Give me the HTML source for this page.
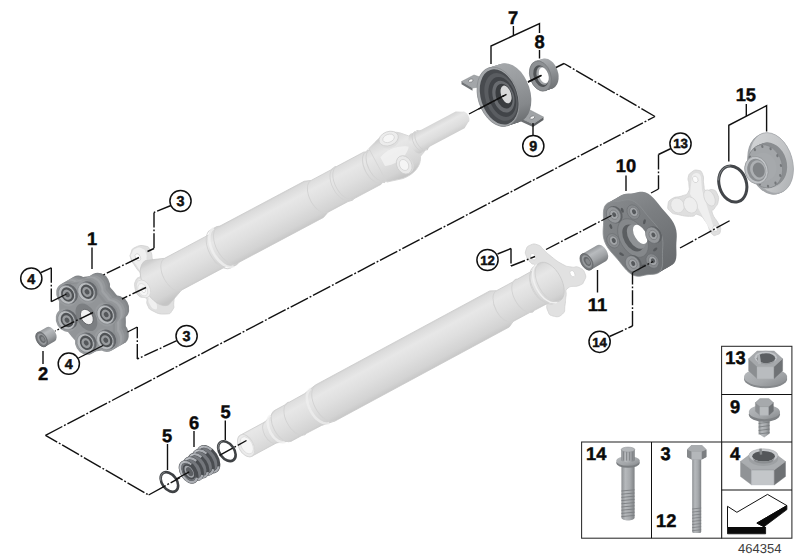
<!DOCTYPE html>
<html><head><meta charset="utf-8"><title>464354</title>
<style>
html,body{margin:0;padding:0;background:#fff;}
body{width:800px;height:560px;overflow:hidden;font-family:"Liberation Sans",sans-serif;}
svg{display:block;font-family:"Liberation Sans",sans-serif;text-rendering:geometricPrecision;}
</style></head><body>
<svg width="800" height="560" viewBox="0 0 800 560">
<defs>
<linearGradient id="gShaft" x1="0" y1="0" x2="0" y2="1">
  <stop offset="0" stop-color="#e2e2e2"/><stop offset="0.18" stop-color="#f6f6f6"/>
  <stop offset="0.45" stop-color="#eeeeee"/><stop offset="0.8" stop-color="#dedede"/><stop offset="1" stop-color="#d2d2d2"/>
</linearGradient>
<linearGradient id="gDark" x1="0" y1="0" x2="0" y2="1">
  <stop offset="0" stop-color="#8a8d90"/><stop offset="0.3" stop-color="#9a9da0"/>
  <stop offset="0.7" stop-color="#7a7d80"/><stop offset="1" stop-color="#606366"/>
</linearGradient>
<linearGradient id="gBolt" x1="0" y1="0" x2="1" y2="0">
  <stop offset="0" stop-color="#8f9295"/><stop offset="0.35" stop-color="#b9bcbf"/>
  <stop offset="0.7" stop-color="#a4a7aa"/><stop offset="1" stop-color="#85888b"/>
</linearGradient>

<linearGradient id="gS" gradientUnits="userSpaceOnUse" x1="0" y1="-22" x2="0" y2="22">
  <stop offset="0" stop-color="#cecece"/><stop offset="0.08" stop-color="#dbdbdb"/>
  <stop offset="0.28" stop-color="#e7e7e7"/><stop offset="0.55" stop-color="#dfdfdf"/>
  <stop offset="0.85" stop-color="#d3d3d3"/><stop offset="1" stop-color="#c5c5c5"/>
</linearGradient>
<linearGradient id="gS2" gradientUnits="userSpaceOnUse" x1="0" y1="-10" x2="0" y2="10">
  <stop offset="0" stop-color="#d4d4d4"/><stop offset="0.3" stop-color="#e7e7e7"/>
  <stop offset="0.7" stop-color="#dddddd"/><stop offset="1" stop-color="#cccccc"/>
</linearGradient>
<radialGradient id="gFl" cx="0.4" cy="0.35" r="0.8">
  <stop offset="0" stop-color="#f6f6f6"/><stop offset="1" stop-color="#dedede"/>
</radialGradient>

<linearGradient id="gRim" gradientUnits="objectBoundingBox" x1="0" y1="0" x2="0" y2="1">
  <stop offset="0" stop-color="#8b8e91"/><stop offset="0.35" stop-color="#7c7f82"/><stop offset="1" stop-color="#626568"/>
</linearGradient>
<linearGradient id="gFace" gradientUnits="objectBoundingBox" x1="0" y1="0" x2="0.3" y2="1">
  <stop offset="0" stop-color="#96999c"/><stop offset="0.5" stop-color="#86898c"/><stop offset="1" stop-color="#74777a"/>
</linearGradient>
<linearGradient id="gRimL" gradientUnits="objectBoundingBox" x1="0" y1="0" x2="0" y2="1">
  <stop offset="0" stop-color="#a9acaf"/><stop offset="0.4" stop-color="#94979a"/><stop offset="1" stop-color="#707376"/>
</linearGradient>

<linearGradient id="gRimA" gradientUnits="objectBoundingBox" x1="0" y1="0" x2="0" y2="1">
  <stop offset="0" stop-color="#a9acaf"/><stop offset="0.35" stop-color="#8f9295"/><stop offset="1" stop-color="#707376"/>
</linearGradient>
<linearGradient id="gFaceA" gradientUnits="objectBoundingBox" x1="0" y1="0" x2="0.3" y2="1">
  <stop offset="0" stop-color="#9c9fa2"/><stop offset="0.5" stop-color="#8c8f92"/><stop offset="1" stop-color="#7d8083"/>
</linearGradient>
<linearGradient id="gRimB" gradientUnits="objectBoundingBox" x1="0" y1="0" x2="0" y2="1">
  <stop offset="0" stop-color="#8a8d90"/><stop offset="0.35" stop-color="#7b7e81"/><stop offset="1" stop-color="#686b6e"/>
</linearGradient>
<linearGradient id="gFaceB" gradientUnits="objectBoundingBox" x1="0" y1="0" x2="0.3" y2="1">
  <stop offset="0" stop-color="#8a8d90"/><stop offset="0.5" stop-color="#7c7f82"/><stop offset="1" stop-color="#6e7174"/>
</linearGradient>

<linearGradient id="gCyl" gradientUnits="objectBoundingBox" x1="0" y1="0" x2="0" y2="1">
  <stop offset="0" stop-color="#94979a"/><stop offset="0.28" stop-color="#b8bbbe"/><stop offset="0.65" stop-color="#a0a3a6"/><stop offset="1" stop-color="#787b7e"/>
</linearGradient>
<linearGradient id="gHouse" gradientUnits="objectBoundingBox" x1="0" y1="0" x2="0" y2="1">
  <stop offset="0" stop-color="#a4a7aa"/><stop offset="0.3" stop-color="#9a9da0"/><stop offset="0.75" stop-color="#85888b"/><stop offset="1" stop-color="#6c6f72"/>
</linearGradient>
<linearGradient id="gLight" gradientUnits="objectBoundingBox" x1="0" y1="0" x2="1" y2="1">
  <stop offset="0" stop-color="#d4d6d8"/><stop offset="0.6" stop-color="#c2c4c6"/><stop offset="1" stop-color="#a8abae"/>
</linearGradient>

<linearGradient id="gB" x1="0" y1="0" x2="1" y2="0">
  <stop offset="0" stop-color="#8c8f92"/><stop offset="0.3" stop-color="#b6b9bc"/>
  <stop offset="0.65" stop-color="#a6a9ac"/><stop offset="1" stop-color="#7e8184"/>
</linearGradient>
<linearGradient id="gFlg" x1="0" y1="0" x2="1" y2="1">
  <stop offset="0" stop-color="#b9bcbf"/><stop offset="0.6" stop-color="#a3a6a9"/><stop offset="1" stop-color="#85888b"/>
</linearGradient>
</defs>
<rect width="800" height="560" fill="#fff"/>
<path d="M131.00,259.00 C129.50,254.65 129.80,256.45 131.00,253.00 C132.20,249.55 130.80,249.60 135.00,247.50 C139.20,245.40 140.35,244.95 145.00,246.00 C149.65,247.05 147.80,246.20 150.50,251.00 C153.20,255.80 150.55,256.90 154.00,262.00 C157.45,267.10 155.40,262.60 162.00,268.00 C168.60,273.40 172.40,270.40 176.00,280.00 C179.60,289.60 175.05,291.00 174.00,300.00 C172.95,309.00 175.20,305.80 172.50,310.00 C169.80,314.20 170.85,313.70 165.00,314.00 C159.15,314.30 158.25,313.70 153.00,311.00 C147.75,308.30 149.60,308.90 147.50,305.00 C145.40,301.10 148.55,300.70 146.00,298.00 C143.45,295.30 142.30,299.00 139.00,296.00 C135.70,293.00 135.90,292.80 135.00,288.00 C134.10,283.20 134.35,283.90 136.00,280.00 C137.65,276.10 140.50,278.75 140.50,275.00 C140.50,271.25 138.85,272.30 136.00,267.50 C133.15,262.70 132.50,263.35 131.00,259.00 Z" fill="#dfdfdf" stroke="#d0d0d0" stroke-width="0.8" />
<path d="M131.50,258.00 C129.85,253.80 130.65,255.85 132.00,253.00 C133.35,250.15 133.00,249.85 136.00,248.50 C139.00,247.15 139.00,247.15 142.00,248.50 C145.00,249.85 144.50,248.95 146.00,253.00 C147.50,257.05 145.80,256.30 147.00,262.00 C148.20,267.70 148.50,265.40 150.00,272.00 C151.50,278.60 151.10,276.80 152.00,284.00 C152.90,291.20 151.50,289.40 153.00,296.00 C154.50,302.60 156.70,302.10 157.00,306.00 C157.30,309.90 156.40,309.90 154.00,309.00 C151.60,308.10 150.95,306.60 149.00,303.00 C147.05,299.40 150.20,299.40 147.50,297.00 C144.80,294.60 143.30,297.70 140.00,295.00 C136.70,292.30 137.25,292.20 136.50,288.00 C135.75,283.80 135.85,284.60 137.50,281.00 C139.15,277.40 142.00,280.20 142.00,276.00 C142.00,271.80 140.65,272.40 137.50,267.00 C134.35,261.60 133.15,262.20 131.50,258.00 Z" fill="#f0f0f0" stroke="none" stroke-width="0" />
<path d="M526.00,250.00 C527.20,246.55 526.90,246.50 530.50,245.00 C534.10,243.50 534.10,243.65 538.00,245.00 C541.90,246.35 539.90,246.35 543.50,249.50 C547.10,252.65 544.45,251.15 550.00,255.50 C555.55,259.85 555.70,260.55 562.00,264.00 C568.30,267.45 565.90,265.95 571.00,267.00 C576.10,268.05 574.80,265.55 579.00,267.50 C583.20,269.45 583.50,269.45 585.00,273.50 C586.50,277.55 585.80,277.40 584.00,281.00 C582.20,284.60 583.80,283.40 579.00,285.50 C574.20,287.60 571.90,284.85 568.00,288.00 C564.10,291.15 566.90,290.90 566.00,296.00 C565.10,301.10 566.05,299.60 565.00,305.00 C563.95,310.40 566.10,310.70 562.50,314.00 C558.90,317.30 557.50,317.20 553.00,316.00 C548.50,314.80 549.60,314.80 547.50,310.00 C545.40,305.20 548.25,307.50 546.00,300.00 C543.75,292.50 543.00,294.60 540.00,285.00 C537.00,275.40 538.85,274.75 536.00,268.00 C533.15,261.25 533.35,265.95 530.50,262.50 C527.65,259.05 527.85,260.25 526.50,256.50 C525.15,252.75 524.80,253.45 526.00,250.00 Z" fill="#e1e1e1" stroke="#d0d0d0" stroke-width="0.8" />
<g transform="translate(151.8,285.5) rotate(-28)"><path d="M6,-25 L14,-22 L24,-18 L75,-18 L78,-21.5 L85,-21.5 L88,-20.5 L183.5,-20.5 L190,-18 L215,-18 L217,-19 L219,-18.3 L250,-18.3 L252,-17 L254,-18.5 L256,-17 L258,-18.5 L262,-18.5 A10.175,18.5 0 0 1 262,18.5 L258,18.5 L256,17 L254,18.5 L252,17 L250,18.3 L219,18.3 L217,19 L215,18 L190,18 L183.5,20.5 L88,20.5 L85,21.5 L78,21.5 L75,18 L24,18 L14,22 L6,25 A13.750000000000002,25 0 0 1 6,-25 Z" fill="url(#gS)" stroke="#c8c8c8" stroke-width="0.7"/><path d="M24,-18 A9.9,18 0 0 0 24,18" fill="none" stroke="#d2d2d2" stroke-width="0.9" opacity="1"/><path d="M78,-21.5 A11.825000000000001,21.5 0 0 0 78,21.5" fill="none" stroke="#d2d2d2" stroke-width="0.9" opacity="1"/><path d="M86,-21 A11.55,21 0 0 0 86,21" fill="none" stroke="#d2d2d2" stroke-width="0.9" opacity="1"/><path d="M190,-18 A9.9,18 0 0 0 190,18" fill="none" stroke="#d2d2d2" stroke-width="0.9" opacity="1"/><path d="M216,-18.6 A10.230000000000002,18.6 0 0 0 216,18.6" fill="none" stroke="#d2d2d2" stroke-width="0.9" opacity="1"/><path d="M219,-18.3 A10.065000000000001,18.3 0 0 0 219,18.3" fill="none" stroke="#d2d2d2" stroke-width="0.9" opacity="1"/><path d="M252,-17.5 A9.625,17.5 0 0 0 252,17.5" fill="none" stroke="#d2d2d2" stroke-width="0.9" opacity="1"/><path d="M256,-17.5 A9.625,17.5 0 0 0 256,17.5" fill="none" stroke="#d2d2d2" stroke-width="0.9" opacity="1"/><path d="M81.5,-21.5 A11.825000000000001,21.5 0 0 0 81.5,21.5" fill="none" stroke="#f2f2f2" stroke-width="2.6" opacity="0.75"/><ellipse cx="-9" cy="-1" rx="6.5" ry="9.5" fill="#efefef" stroke="#d6d6d6" stroke-width="0.8"/><ellipse cx="-10" cy="-0.5" rx="4.4" ry="6.6" fill="#f6f6f6" stroke="#d8d8d8" stroke-width="0.7"/><ellipse cx="-9.5" cy="0" rx="1.8" ry="2.8" fill="#ffffff" stroke="#cfcfcf" stroke-width="0.6"/><ellipse cx="1" cy="-31.5" rx="2.4" ry="3.8" fill="#ffffff" stroke="#d0d0d0" stroke-width="0.7"/><path d="M256,-19 L264,-21.5 C272,-25 284,-25 291,-18 L297,-11.5 L303,-11 L303,10 L298,12 C294,21 284,25 272,23.5 L256,19Z" fill="url(#gS)" stroke="#d4d4d4" stroke-width="0.8"/><path d="M262,-6 C272,-10 284,-8 292,-2 C286,6 272,8 262,4Z" fill="#f3f3f3" opacity="0.8"/><g transform="rotate(8 278 -18)"><ellipse cx="278" cy="-16" rx="10" ry="7" fill="#dfdfdf"/><ellipse cx="278" cy="-18.5" rx="10" ry="7" fill="#ececec" stroke="#d0d0d0" stroke-width="0.8"/><ellipse cx="278" cy="-18.8" rx="6" ry="4" fill="#f6f6f6" stroke="#d2d2d2" stroke-width="0.7"/></g><ellipse cx="281" cy="12.5" rx="7.4" ry="9.6" fill="#dcdcdc"/><ellipse cx="279.5" cy="12" rx="7.4" ry="9.6" fill="#e9e9e9" stroke="#cecece" stroke-width="0.8"/><ellipse cx="279.3" cy="12" rx="4.4" ry="5.8" fill="#f5f5f5" stroke="#d2d2d2" stroke-width="0.7"/><g transform="translate(0,-1.5)"><path d="M300,-11 L303,-10 L304,-11.5 L306,-10 L307,-11.5 L309,-10 L311,-9.4 L350,-9.4 L356,-6 A3.3000000000000003,6 0 0 1 356,6 L350,9.4 L311,9.4 L309,10 L307,11.5 L306,10 L304,11.5 L303,10 L300,11 A6.050000000000001,11 0 0 1 300,-11 Z" fill="url(#gS2)"/><path d="M304,-11 A6.050000000000001,11 0 0 0 304,11" fill="none" stroke="#d0d0d0" stroke-width="0.8" opacity="1"/><path d="M307,-11 A6.050000000000001,11 0 0 0 307,11" fill="none" stroke="#d0d0d0" stroke-width="0.8" opacity="1"/></g></g>
<g transform="translate(239.05,449.5) rotate(-28.35)"><path d="M8,-12 L36,-12 L42,-14 L50,-17.5 L64,-17.5 L65,-18.3 L67,-17.8 L84,-18 L98,-20.5 L296,-20.5 L302,-17.5 L322,-17.5 L324,-18.5 L326,-17.8 L343,-18 L346,-20.8 L353,-21.4 A11.77,21.4 0 0 1 353,21.4 L346,20.8 L343,18 L326,17.8 L324,18.5 L322,17.5 L302,17.5 L296,20.5 L98,20.5 L84,18 L67,17.8 L65,18.3 L64,17.5 L50,17.5 L42,14 L36,12 L8,12 A6.6000000000000005,12 0 0 1 8,-12 Z" fill="url(#gS)" stroke="#c8c8c8" stroke-width="0.7"/><path d="M36,-12 A6.6000000000000005,12 0 0 0 36,12" fill="none" stroke="#d2d2d2" stroke-width="0.9" opacity="1"/><path d="M50,-17.5 A9.625,17.5 0 0 0 50,17.5" fill="none" stroke="#d2d2d2" stroke-width="0.9" opacity="1"/><path d="M65,-18.2 A10.01,18.2 0 0 0 65,18.2" fill="none" stroke="#d2d2d2" stroke-width="0.9" opacity="1"/><path d="M98,-20 A11.0,20 0 0 0 98,20" fill="none" stroke="#d2d2d2" stroke-width="0.9" opacity="1"/><path d="M302,-17.5 A9.625,17.5 0 0 0 302,17.5" fill="none" stroke="#d2d2d2" stroke-width="0.9" opacity="1"/><path d="M324,-18.3 A10.065000000000001,18.3 0 0 0 324,18.3" fill="none" stroke="#d2d2d2" stroke-width="0.9" opacity="1"/><path d="M344,-18 A9.9,18 0 0 0 344,18" fill="none" stroke="#d2d2d2" stroke-width="0.9" opacity="1"/><path d="M44,-15 A8.25,15 0 0 0 44,15" fill="none" stroke="#f2f2f2" stroke-width="2.6" opacity="0.75"/><path d="M92,-19.4 A10.67,19.4 0 0 0 92,19.4" fill="none" stroke="#f0f0f0" stroke-width="2.6" opacity="0.7"/><ellipse cx="8" cy="0" rx="7.4" ry="12" fill="#ebebeb" stroke="#d6d6d6" stroke-width="0.9"/><ellipse cx="8.8" cy="0" rx="5.6" ry="9.3" fill="#f6f6f6" stroke="#dcdcdc" stroke-width="0.8"/><ellipse cx="350.5" cy="-30" rx="2.2" ry="3.6" fill="#ffffff" stroke="#d2d2d2" stroke-width="0.7"/><ellipse cx="376.9" cy="3.6" rx="2.2" ry="3.4" fill="#ffffff" stroke="#d2d2d2" stroke-width="0.7"/><path d="M346.5,-20.8 A11.440000000000001,20.8 0 0 0 346.5,20.8" fill="none" stroke="#d0d0d0" stroke-width="0.9" opacity="1"/><path d="M350,-21.2 A11.66,21.2 0 0 0 350,21.2" fill="none" stroke="#f0f0f0" stroke-width="1.6" opacity="1"/><path d="M353,-21.4 A11.77,21.4 0 0 0 353,21.4" fill="none" stroke="#d2d2d2" stroke-width="0.9" opacity="1"/></g>
<g id="dark">
<g transform="translate(633,238) rotate(-30)"><path d="M16.00,-41.80 L18.21,-40.73 L20.34,-39.66 L22.44,-38.75 L24.58,-38.03 L26.80,-37.37 L29.08,-36.54 L31.33,-35.31 L33.43,-33.50 L35.24,-31.03 L36.67,-27.98 L37.72,-24.53 L38.45,-20.90 L38.98,-17.28 L39.46,-13.77 L40.03,-10.38 L40.71,-7.03 L41.47,-3.59 L42.16,-0.00 L42.63,3.76 L42.70,7.59 L42.28,11.36 L41.36,14.89 L40.03,18.07 L38.45,20.90 L36.77,23.45 L35.13,25.89 L33.59,28.37 L32.13,31.00 L30.66,33.77 L29.08,36.54 L27.30,39.07 L25.27,41.09 L23.04,42.38 L20.69,42.87 L18.31,42.61 L16.00,41.80 L13.79,40.73 L11.66,39.66 L9.56,38.75 L7.42,38.03 L5.20,37.37 L2.92,36.54 L0.67,35.31 L-1.43,33.50 L-3.24,31.03 L-4.67,27.98 L-5.72,24.53 L-6.45,20.90 L-6.98,17.28 L-7.46,13.77 L-8.03,10.38 L-8.71,7.03 L-9.47,3.59 L-10.16,0.00 L-10.63,-3.76 L-10.70,-7.59 L-10.28,-11.36 L-9.36,-14.89 L-8.03,-18.07 L-6.45,-20.90 L-4.77,-23.45 L-3.13,-25.89 L-1.59,-28.37 L-0.13,-31.00 L1.34,-33.77 L2.92,-36.54 L4.70,-39.07 L6.73,-41.09 L8.96,-42.38 L11.31,-42.87 L13.69,-42.61Z" fill="url(#gRimB)"/><path d="M14.40,-41.80 L16.61,-40.73 L18.74,-39.66 L20.84,-38.75 L22.98,-38.03 L25.20,-37.37 L27.48,-36.54 L29.73,-35.31 L31.83,-33.50 L33.64,-31.03 L35.07,-27.98 L36.12,-24.53 L36.85,-20.90 L37.38,-17.28 L37.86,-13.77 L38.43,-10.38 L39.11,-7.03 L39.87,-3.59 L40.56,-0.00 L41.03,3.76 L41.10,7.59 L40.68,11.36 L39.76,14.89 L38.43,18.07 L36.85,20.90 L35.17,23.45 L33.53,25.89 L31.99,28.37 L30.53,31.00 L29.06,33.77 L27.48,36.54 L25.70,39.07 L23.67,41.09 L21.44,42.38 L19.09,42.87 L16.71,42.61 L14.40,41.80 L12.19,40.73 L10.06,39.66 L7.96,38.75 L5.82,38.03 L3.60,37.37 L1.32,36.54 L-0.93,35.31 L-3.03,33.50 L-4.84,31.03 L-6.27,27.98 L-7.32,24.53 L-8.05,20.90 L-8.58,17.28 L-9.06,13.77 L-9.63,10.38 L-10.31,7.03 L-11.07,3.59 L-11.76,0.00 L-12.23,-3.76 L-12.30,-7.59 L-11.88,-11.36 L-10.96,-14.89 L-9.63,-18.07 L-8.05,-20.90 L-6.37,-23.45 L-4.73,-25.89 L-3.19,-28.37 L-1.73,-31.00 L-0.26,-33.77 L1.32,-36.54 L3.10,-39.07 L5.13,-41.09 L7.36,-42.38 L9.71,-42.87 L12.09,-42.61Z" fill="url(#gRimB)"/><path d="M12.80,-41.80 L15.01,-40.73 L17.14,-39.66 L19.24,-38.75 L21.38,-38.03 L23.60,-37.37 L25.88,-36.54 L28.13,-35.31 L30.23,-33.50 L32.04,-31.03 L33.47,-27.98 L34.52,-24.53 L35.25,-20.90 L35.78,-17.28 L36.26,-13.77 L36.83,-10.38 L37.51,-7.03 L38.27,-3.59 L38.96,-0.00 L39.43,3.76 L39.50,7.59 L39.08,11.36 L38.16,14.89 L36.83,18.07 L35.25,20.90 L33.57,23.45 L31.93,25.89 L30.39,28.37 L28.93,31.00 L27.46,33.77 L25.88,36.54 L24.10,39.07 L22.07,41.09 L19.84,42.38 L17.49,42.87 L15.11,42.61 L12.80,41.80 L10.59,40.73 L8.46,39.66 L6.36,38.75 L4.22,38.03 L2.00,37.37 L-0.28,36.54 L-2.53,35.31 L-4.63,33.50 L-6.44,31.03 L-7.87,27.98 L-8.92,24.53 L-9.65,20.90 L-10.18,17.28 L-10.66,13.77 L-11.23,10.38 L-11.91,7.03 L-12.67,3.59 L-13.36,0.00 L-13.83,-3.76 L-13.90,-7.59 L-13.48,-11.36 L-12.56,-14.89 L-11.23,-18.07 L-9.65,-20.90 L-7.97,-23.45 L-6.33,-25.89 L-4.79,-28.37 L-3.33,-31.00 L-1.86,-33.77 L-0.28,-36.54 L1.50,-39.07 L3.53,-41.09 L5.76,-42.38 L8.11,-42.87 L10.49,-42.61Z" fill="url(#gRimB)"/><path d="M11.20,-41.80 L13.41,-40.73 L15.54,-39.66 L17.64,-38.75 L19.78,-38.03 L22.00,-37.37 L24.28,-36.54 L26.53,-35.31 L28.63,-33.50 L30.44,-31.03 L31.87,-27.98 L32.92,-24.53 L33.65,-20.90 L34.18,-17.28 L34.66,-13.77 L35.23,-10.38 L35.91,-7.03 L36.67,-3.59 L37.36,-0.00 L37.83,3.76 L37.90,7.59 L37.48,11.36 L36.56,14.89 L35.23,18.07 L33.65,20.90 L31.97,23.45 L30.33,25.89 L28.79,28.37 L27.33,31.00 L25.86,33.77 L24.28,36.54 L22.50,39.07 L20.47,41.09 L18.24,42.38 L15.89,42.87 L13.51,42.61 L11.20,41.80 L8.99,40.73 L6.86,39.66 L4.76,38.75 L2.62,38.03 L0.40,37.37 L-1.88,36.54 L-4.13,35.31 L-6.23,33.50 L-8.04,31.03 L-9.47,27.98 L-10.52,24.53 L-11.25,20.90 L-11.78,17.28 L-12.26,13.77 L-12.83,10.38 L-13.51,7.03 L-14.27,3.59 L-14.96,0.00 L-15.43,-3.76 L-15.50,-7.59 L-15.08,-11.36 L-14.16,-14.89 L-12.83,-18.07 L-11.25,-20.90 L-9.57,-23.45 L-7.93,-25.89 L-6.39,-28.37 L-4.93,-31.00 L-3.46,-33.77 L-1.88,-36.54 L-0.10,-39.07 L1.93,-41.09 L4.16,-42.38 L6.51,-42.87 L8.89,-42.61Z" fill="url(#gRimB)"/><path d="M9.60,-41.80 L11.81,-40.73 L13.94,-39.66 L16.04,-38.75 L18.18,-38.03 L20.40,-37.37 L22.68,-36.54 L24.93,-35.31 L27.03,-33.50 L28.84,-31.03 L30.27,-27.98 L31.32,-24.53 L32.05,-20.90 L32.58,-17.28 L33.06,-13.77 L33.63,-10.38 L34.31,-7.03 L35.07,-3.59 L35.76,-0.00 L36.23,3.76 L36.30,7.59 L35.88,11.36 L34.96,14.89 L33.63,18.07 L32.05,20.90 L30.37,23.45 L28.73,25.89 L27.19,28.37 L25.73,31.00 L24.26,33.77 L22.68,36.54 L20.90,39.07 L18.87,41.09 L16.64,42.38 L14.29,42.87 L11.91,42.61 L9.60,41.80 L7.39,40.73 L5.26,39.66 L3.16,38.75 L1.02,38.03 L-1.20,37.37 L-3.48,36.54 L-5.73,35.31 L-7.83,33.50 L-9.64,31.03 L-11.07,27.98 L-12.12,24.53 L-12.85,20.90 L-13.38,17.28 L-13.86,13.77 L-14.43,10.38 L-15.11,7.03 L-15.87,3.59 L-16.56,0.00 L-17.03,-3.76 L-17.10,-7.59 L-16.68,-11.36 L-15.76,-14.89 L-14.43,-18.07 L-12.85,-20.90 L-11.17,-23.45 L-9.53,-25.89 L-7.99,-28.37 L-6.53,-31.00 L-5.06,-33.77 L-3.48,-36.54 L-1.70,-39.07 L0.33,-41.09 L2.56,-42.38 L4.91,-42.87 L7.29,-42.61Z" fill="url(#gRimB)"/><path d="M8.00,-41.80 L10.21,-40.73 L12.34,-39.66 L14.44,-38.75 L16.58,-38.03 L18.80,-37.37 L21.08,-36.54 L23.33,-35.31 L25.43,-33.50 L27.24,-31.03 L28.67,-27.98 L29.72,-24.53 L30.45,-20.90 L30.98,-17.28 L31.46,-13.77 L32.03,-10.38 L32.71,-7.03 L33.47,-3.59 L34.16,-0.00 L34.63,3.76 L34.70,7.59 L34.28,11.36 L33.36,14.89 L32.03,18.07 L30.45,20.90 L28.77,23.45 L27.13,25.89 L25.59,28.37 L24.13,31.00 L22.66,33.77 L21.08,36.54 L19.30,39.07 L17.27,41.09 L15.04,42.38 L12.69,42.87 L10.31,42.61 L8.00,41.80 L5.79,40.73 L3.66,39.66 L1.56,38.75 L-0.58,38.03 L-2.80,37.37 L-5.08,36.54 L-7.33,35.31 L-9.43,33.50 L-11.24,31.03 L-12.67,27.98 L-13.72,24.53 L-14.45,20.90 L-14.98,17.28 L-15.46,13.77 L-16.03,10.38 L-16.71,7.03 L-17.47,3.59 L-18.16,0.00 L-18.63,-3.76 L-18.70,-7.59 L-18.28,-11.36 L-17.36,-14.89 L-16.03,-18.07 L-14.45,-20.90 L-12.77,-23.45 L-11.13,-25.89 L-9.59,-28.37 L-8.13,-31.00 L-6.66,-33.77 L-5.08,-36.54 L-3.30,-39.07 L-1.27,-41.09 L0.96,-42.38 L3.31,-42.87 L5.69,-42.61Z" fill="url(#gRimB)"/><path d="M6.40,-41.80 L8.61,-40.73 L10.74,-39.66 L12.84,-38.75 L14.98,-38.03 L17.20,-37.37 L19.48,-36.54 L21.73,-35.31 L23.83,-33.50 L25.64,-31.03 L27.07,-27.98 L28.12,-24.53 L28.85,-20.90 L29.38,-17.28 L29.86,-13.77 L30.43,-10.38 L31.11,-7.03 L31.87,-3.59 L32.56,-0.00 L33.03,3.76 L33.10,7.59 L32.68,11.36 L31.76,14.89 L30.43,18.07 L28.85,20.90 L27.17,23.45 L25.53,25.89 L23.99,28.37 L22.53,31.00 L21.06,33.77 L19.48,36.54 L17.70,39.07 L15.67,41.09 L13.44,42.38 L11.09,42.87 L8.71,42.61 L6.40,41.80 L4.19,40.73 L2.06,39.66 L-0.04,38.75 L-2.18,38.03 L-4.40,37.37 L-6.68,36.54 L-8.93,35.31 L-11.03,33.50 L-12.84,31.03 L-14.27,27.98 L-15.32,24.53 L-16.05,20.90 L-16.58,17.28 L-17.06,13.77 L-17.63,10.38 L-18.31,7.03 L-19.07,3.59 L-19.76,0.00 L-20.23,-3.76 L-20.30,-7.59 L-19.88,-11.36 L-18.96,-14.89 L-17.63,-18.07 L-16.05,-20.90 L-14.37,-23.45 L-12.73,-25.89 L-11.19,-28.37 L-9.73,-31.00 L-8.26,-33.77 L-6.68,-36.54 L-4.90,-39.07 L-2.87,-41.09 L-0.64,-42.38 L1.71,-42.87 L4.09,-42.61Z" fill="url(#gRimB)"/><path d="M4.80,-41.80 L7.01,-40.73 L9.14,-39.66 L11.24,-38.75 L13.38,-38.03 L15.60,-37.37 L17.88,-36.54 L20.13,-35.31 L22.23,-33.50 L24.04,-31.03 L25.47,-27.98 L26.52,-24.53 L27.25,-20.90 L27.78,-17.28 L28.26,-13.77 L28.83,-10.38 L29.51,-7.03 L30.27,-3.59 L30.96,-0.00 L31.43,3.76 L31.50,7.59 L31.08,11.36 L30.16,14.89 L28.83,18.07 L27.25,20.90 L25.57,23.45 L23.93,25.89 L22.39,28.37 L20.93,31.00 L19.46,33.77 L17.88,36.54 L16.10,39.07 L14.07,41.09 L11.84,42.38 L9.49,42.87 L7.11,42.61 L4.80,41.80 L2.59,40.73 L0.46,39.66 L-1.64,38.75 L-3.78,38.03 L-6.00,37.37 L-8.28,36.54 L-10.53,35.31 L-12.63,33.50 L-14.44,31.03 L-15.87,27.98 L-16.92,24.53 L-17.65,20.90 L-18.18,17.28 L-18.66,13.77 L-19.23,10.38 L-19.91,7.03 L-20.67,3.59 L-21.36,0.00 L-21.83,-3.76 L-21.90,-7.59 L-21.48,-11.36 L-20.56,-14.89 L-19.23,-18.07 L-17.65,-20.90 L-15.97,-23.45 L-14.33,-25.89 L-12.79,-28.37 L-11.33,-31.00 L-9.86,-33.77 L-8.28,-36.54 L-6.50,-39.07 L-4.47,-41.09 L-2.24,-42.38 L0.11,-42.87 L2.49,-42.61Z" fill="url(#gRimB)"/><path d="M3.20,-41.80 L5.41,-40.73 L7.54,-39.66 L9.64,-38.75 L11.78,-38.03 L14.00,-37.37 L16.28,-36.54 L18.53,-35.31 L20.63,-33.50 L22.44,-31.03 L23.87,-27.98 L24.92,-24.53 L25.65,-20.90 L26.18,-17.28 L26.66,-13.77 L27.23,-10.38 L27.91,-7.03 L28.67,-3.59 L29.36,-0.00 L29.83,3.76 L29.90,7.59 L29.48,11.36 L28.56,14.89 L27.23,18.07 L25.65,20.90 L23.97,23.45 L22.33,25.89 L20.79,28.37 L19.33,31.00 L17.86,33.77 L16.28,36.54 L14.50,39.07 L12.47,41.09 L10.24,42.38 L7.89,42.87 L5.51,42.61 L3.20,41.80 L0.99,40.73 L-1.14,39.66 L-3.24,38.75 L-5.38,38.03 L-7.60,37.37 L-9.88,36.54 L-12.13,35.31 L-14.23,33.50 L-16.04,31.03 L-17.47,27.98 L-18.52,24.53 L-19.25,20.90 L-19.78,17.28 L-20.26,13.77 L-20.83,10.38 L-21.51,7.03 L-22.27,3.59 L-22.96,0.00 L-23.43,-3.76 L-23.50,-7.59 L-23.08,-11.36 L-22.16,-14.89 L-20.83,-18.07 L-19.25,-20.90 L-17.57,-23.45 L-15.93,-25.89 L-14.39,-28.37 L-12.93,-31.00 L-11.46,-33.77 L-9.88,-36.54 L-8.10,-39.07 L-6.07,-41.09 L-3.84,-42.38 L-1.49,-42.87 L0.89,-42.61Z" fill="url(#gRimB)"/><path d="M1.60,-41.80 L3.81,-40.73 L5.94,-39.66 L8.04,-38.75 L10.18,-38.03 L12.40,-37.37 L14.68,-36.54 L16.93,-35.31 L19.03,-33.50 L20.84,-31.03 L22.27,-27.98 L23.32,-24.53 L24.05,-20.90 L24.58,-17.28 L25.06,-13.77 L25.63,-10.38 L26.31,-7.03 L27.07,-3.59 L27.76,-0.00 L28.23,3.76 L28.30,7.59 L27.88,11.36 L26.96,14.89 L25.63,18.07 L24.05,20.90 L22.37,23.45 L20.73,25.89 L19.19,28.37 L17.73,31.00 L16.26,33.77 L14.68,36.54 L12.90,39.07 L10.87,41.09 L8.64,42.38 L6.29,42.87 L3.91,42.61 L1.60,41.80 L-0.61,40.73 L-2.74,39.66 L-4.84,38.75 L-6.98,38.03 L-9.20,37.37 L-11.48,36.54 L-13.73,35.31 L-15.83,33.50 L-17.64,31.03 L-19.07,27.98 L-20.12,24.53 L-20.85,20.90 L-21.38,17.28 L-21.86,13.77 L-22.43,10.38 L-23.11,7.03 L-23.87,3.59 L-24.56,0.00 L-25.03,-3.76 L-25.10,-7.59 L-24.68,-11.36 L-23.76,-14.89 L-22.43,-18.07 L-20.85,-20.90 L-19.17,-23.45 L-17.53,-25.89 L-15.99,-28.37 L-14.53,-31.00 L-13.06,-33.77 L-11.48,-36.54 L-9.70,-39.07 L-7.67,-41.09 L-5.44,-42.38 L-3.09,-42.87 L-0.71,-42.61Z" fill="url(#gRimB)"/><path d="M0.00,-41.80 L2.21,-40.73 L4.34,-39.66 L6.44,-38.75 L8.58,-38.03 L10.80,-37.37 L13.08,-36.54 L15.33,-35.31 L17.43,-33.50 L19.24,-31.03 L20.67,-27.98 L21.72,-24.53 L22.45,-20.90 L22.98,-17.28 L23.46,-13.77 L24.03,-10.38 L24.71,-7.03 L25.47,-3.59 L26.16,-0.00 L26.63,3.76 L26.70,7.59 L26.28,11.36 L25.36,14.89 L24.03,18.07 L22.45,20.90 L20.77,23.45 L19.13,25.89 L17.59,28.37 L16.13,31.00 L14.66,33.77 L13.08,36.54 L11.30,39.07 L9.27,41.09 L7.04,42.38 L4.69,42.87 L2.31,42.61 L0.00,41.80 L-2.21,40.73 L-4.34,39.66 L-6.44,38.75 L-8.58,38.03 L-10.80,37.37 L-13.08,36.54 L-15.33,35.31 L-17.43,33.50 L-19.24,31.03 L-20.67,27.98 L-21.72,24.53 L-22.45,20.90 L-22.98,17.28 L-23.46,13.77 L-24.03,10.38 L-24.71,7.03 L-25.47,3.59 L-26.16,0.00 L-26.63,-3.76 L-26.70,-7.59 L-26.28,-11.36 L-25.36,-14.89 L-24.03,-18.07 L-22.45,-20.90 L-20.77,-23.45 L-19.13,-25.89 L-17.59,-28.37 L-16.13,-31.00 L-14.66,-33.77 L-13.08,-36.54 L-11.30,-39.07 L-9.27,-41.09 L-7.04,-42.38 L-4.69,-42.87 L-2.31,-42.61Z" fill="url(#gFaceB)" stroke="#8d9093" stroke-width="0.7"/><ellipse cx="0" cy="0" rx="13.02" ry="21.00" fill="#85888b" stroke="#6a6d70" stroke-width="0.6"/><ellipse cx="4.54" cy="-29.34" rx="1.3" ry="2.6" fill="#56595c" transform="rotate(8.4 4.54 -29.34)"/><ellipse cx="18.02" cy="-8.34" rx="1.3" ry="2.6" fill="#56595c" transform="rotate(44.4 18.02 -8.34)"/><ellipse cx="13.49" cy="21.01" rx="1.3" ry="2.6" fill="#56595c" transform="rotate(80.4 13.49 21.01)"/><ellipse cx="-4.54" cy="29.34" rx="1.3" ry="2.6" fill="#56595c" transform="rotate(116.4 -4.54 29.34)"/><ellipse cx="-18.02" cy="8.34" rx="1.3" ry="2.6" fill="#56595c" transform="rotate(152.4 -18.02 8.34)"/><ellipse cx="-13.49" cy="-21.01" rx="1.3" ry="2.6" fill="#56595c" transform="rotate(188.4 -13.49 -21.01)"/><ellipse cx="0" cy="0" rx="9.11" ry="14.70" fill="#5b5e61"/><ellipse cx="3.52" cy="0.5" rx="7.84" ry="13.23" fill="#8f9295"/><ellipse cx="8.00" cy="0.5" rx="5.65" ry="10.58" fill="#ffffff"/><ellipse cx="-3.88" cy="-29.27" rx="7.2" ry="9" fill="#5f6265"/><ellipse cx="-5.28" cy="-29.67" rx="6.8" ry="8.6" fill="#94979a" stroke="#66696c" stroke-width="0.5"/><ellipse cx="-4.88" cy="-29.67" rx="3.9" ry="4.9" fill="#a2a5a8" stroke="#6a6d70" stroke-width="0.5"/><ellipse cx="-4.58" cy="-29.67" rx="1.9" ry="2.5" fill="#56595c"/><ellipse cx="13.30" cy="-22.21" rx="6.0" ry="7.6" fill="#878a8d" stroke="#66696c" stroke-width="0.5"/><ellipse cx="13.70" cy="-22.21" rx="3.9" ry="4.9" fill="#a2a5a8" stroke="#6a6d70" stroke-width="0.5"/><ellipse cx="14.00" cy="-22.21" rx="1.9" ry="2.5" fill="#56595c"/><ellipse cx="19.97" cy="7.87" rx="7.2" ry="9" fill="#5f6265"/><ellipse cx="18.57" cy="7.47" rx="6.8" ry="8.6" fill="#94979a" stroke="#66696c" stroke-width="0.5"/><ellipse cx="18.97" cy="7.47" rx="3.9" ry="4.9" fill="#a2a5a8" stroke="#6a6d70" stroke-width="0.5"/><ellipse cx="19.27" cy="7.47" rx="1.9" ry="2.5" fill="#56595c"/><ellipse cx="5.28" cy="29.67" rx="6.0" ry="7.6" fill="#878a8d" stroke="#66696c" stroke-width="0.5"/><ellipse cx="5.68" cy="29.67" rx="3.9" ry="4.9" fill="#a2a5a8" stroke="#6a6d70" stroke-width="0.5"/><ellipse cx="5.98" cy="29.67" rx="1.9" ry="2.5" fill="#56595c"/><ellipse cx="-11.90" cy="22.61" rx="7.2" ry="9" fill="#5f6265"/><ellipse cx="-13.30" cy="22.21" rx="6.8" ry="8.6" fill="#94979a" stroke="#66696c" stroke-width="0.5"/><ellipse cx="-12.90" cy="22.21" rx="3.9" ry="4.9" fill="#a2a5a8" stroke="#6a6d70" stroke-width="0.5"/><ellipse cx="-12.60" cy="22.21" rx="1.9" ry="2.5" fill="#56595c"/><ellipse cx="-18.57" cy="-7.47" rx="6.0" ry="7.6" fill="#878a8d" stroke="#66696c" stroke-width="0.5"/><ellipse cx="-18.17" cy="-7.47" rx="3.9" ry="4.9" fill="#a2a5a8" stroke="#6a6d70" stroke-width="0.5"/><ellipse cx="-17.87" cy="-7.47" rx="1.9" ry="2.5" fill="#56595c"/></g>
<g transform="translate(86,317.5) rotate(-30)"><path d="M15.00,-37.27 L16.99,-36.77 L18.95,-36.11 L20.87,-35.36 L22.79,-34.53 L24.71,-33.58 L26.60,-32.41 L28.44,-30.95 L30.16,-29.13 L31.70,-26.94 L33.03,-24.40 L34.12,-21.60 L35.01,-18.64 L35.74,-15.60 L36.36,-12.54 L36.92,-9.47 L37.44,-6.38 L37.88,-3.23 L38.21,-0.00 L38.34,3.29 L38.22,6.60 L37.81,9.86 L37.11,12.98 L36.16,15.91 L35.01,18.64 L33.75,21.17 L32.42,23.57 L31.05,25.89 L29.64,28.15 L28.17,30.35 L26.60,32.41 L24.90,34.25 L23.06,35.74 L21.11,36.79 L19.09,37.38 L17.03,37.51 L15.00,37.27 L13.01,36.77 L11.05,36.11 L9.13,35.36 L7.21,34.53 L5.29,33.58 L3.40,32.41 L1.56,30.95 L-0.16,29.13 L-1.70,26.94 L-3.03,24.40 L-4.12,21.60 L-5.01,18.64 L-5.74,15.60 L-6.36,12.54 L-6.92,9.47 L-7.44,6.38 L-7.88,3.23 L-8.21,0.00 L-8.34,-3.29 L-8.22,-6.60 L-7.81,-9.86 L-7.11,-12.98 L-6.16,-15.91 L-5.01,-18.64 L-3.75,-21.17 L-2.42,-23.57 L-1.05,-25.89 L0.36,-28.15 L1.83,-30.35 L3.40,-32.41 L5.10,-34.25 L6.94,-35.74 L8.89,-36.79 L10.91,-37.38 L12.97,-37.51Z" fill="#838689"/><ellipse cx="9.79" cy="-29.32" rx="10.2" ry="12.2" fill="#838689"/><ellipse cx="28.14" cy="-21.94" rx="10.2" ry="12.2" fill="#838689"/><ellipse cx="33.35" cy="7.38" rx="10.2" ry="12.2" fill="#838689"/><ellipse cx="20.21" cy="29.32" rx="10.2" ry="12.2" fill="#838689"/><ellipse cx="1.86" cy="21.94" rx="10.2" ry="12.2" fill="#838689"/><ellipse cx="-3.35" cy="-7.38" rx="10.2" ry="12.2" fill="#838689"/><path d="M12.50,-37.27 L14.49,-36.77 L16.45,-36.11 L18.37,-35.36 L20.29,-34.53 L22.21,-33.58 L24.10,-32.41 L25.94,-30.95 L27.66,-29.13 L29.20,-26.94 L30.53,-24.40 L31.62,-21.60 L32.51,-18.64 L33.24,-15.60 L33.86,-12.54 L34.42,-9.47 L34.94,-6.38 L35.38,-3.23 L35.71,-0.00 L35.84,3.29 L35.72,6.60 L35.31,9.86 L34.61,12.98 L33.66,15.91 L32.51,18.64 L31.25,21.17 L29.92,23.57 L28.55,25.89 L27.14,28.15 L25.67,30.35 L24.10,32.41 L22.40,34.25 L20.56,35.74 L18.61,36.79 L16.59,37.38 L14.53,37.51 L12.50,37.27 L10.51,36.77 L8.55,36.11 L6.63,35.36 L4.71,34.53 L2.79,33.58 L0.90,32.41 L-0.94,30.95 L-2.66,29.13 L-4.20,26.94 L-5.53,24.40 L-6.62,21.60 L-7.51,18.64 L-8.24,15.60 L-8.86,12.54 L-9.42,9.47 L-9.94,6.38 L-10.38,3.23 L-10.71,0.00 L-10.84,-3.29 L-10.72,-6.60 L-10.31,-9.86 L-9.61,-12.98 L-8.66,-15.91 L-7.51,-18.64 L-6.25,-21.17 L-4.92,-23.57 L-3.55,-25.89 L-2.14,-28.15 L-0.67,-30.35 L0.90,-32.41 L2.60,-34.25 L4.44,-35.74 L6.39,-36.79 L8.41,-37.38 L10.47,-37.51Z" fill="#8b8e91"/><ellipse cx="7.29" cy="-29.32" rx="10.2" ry="12.2" fill="#8b8e91"/><ellipse cx="25.64" cy="-21.94" rx="10.2" ry="12.2" fill="#8b8e91"/><ellipse cx="30.85" cy="7.38" rx="10.2" ry="12.2" fill="#8b8e91"/><ellipse cx="17.71" cy="29.32" rx="10.2" ry="12.2" fill="#8b8e91"/><ellipse cx="-0.64" cy="21.94" rx="10.2" ry="12.2" fill="#8b8e91"/><ellipse cx="-5.85" cy="-7.38" rx="10.2" ry="12.2" fill="#8b8e91"/><path d="M10.00,-37.27 L11.99,-36.77 L13.95,-36.11 L15.87,-35.36 L17.79,-34.53 L19.71,-33.58 L21.60,-32.41 L23.44,-30.95 L25.16,-29.13 L26.70,-26.94 L28.03,-24.40 L29.12,-21.60 L30.01,-18.64 L30.74,-15.60 L31.36,-12.54 L31.92,-9.47 L32.44,-6.38 L32.88,-3.23 L33.21,-0.00 L33.34,3.29 L33.22,6.60 L32.81,9.86 L32.11,12.98 L31.16,15.91 L30.01,18.64 L28.75,21.17 L27.42,23.57 L26.05,25.89 L24.64,28.15 L23.17,30.35 L21.60,32.41 L19.90,34.25 L18.06,35.74 L16.11,36.79 L14.09,37.38 L12.03,37.51 L10.00,37.27 L8.01,36.77 L6.05,36.11 L4.13,35.36 L2.21,34.53 L0.29,33.58 L-1.60,32.41 L-3.44,30.95 L-5.16,29.13 L-6.70,26.94 L-8.03,24.40 L-9.12,21.60 L-10.01,18.64 L-10.74,15.60 L-11.36,12.54 L-11.92,9.47 L-12.44,6.38 L-12.88,3.23 L-13.21,0.00 L-13.34,-3.29 L-13.22,-6.60 L-12.81,-9.86 L-12.11,-12.98 L-11.16,-15.91 L-10.01,-18.64 L-8.75,-21.17 L-7.42,-23.57 L-6.05,-25.89 L-4.64,-28.15 L-3.17,-30.35 L-1.60,-32.41 L0.10,-34.25 L1.94,-35.74 L3.89,-36.79 L5.91,-37.38 L7.97,-37.51Z" fill="#96999c"/><ellipse cx="4.79" cy="-29.32" rx="10.2" ry="12.2" fill="#96999c"/><ellipse cx="23.14" cy="-21.94" rx="10.2" ry="12.2" fill="#96999c"/><ellipse cx="28.35" cy="7.38" rx="10.2" ry="12.2" fill="#96999c"/><ellipse cx="15.21" cy="29.32" rx="10.2" ry="12.2" fill="#96999c"/><ellipse cx="-3.14" cy="21.94" rx="10.2" ry="12.2" fill="#96999c"/><ellipse cx="-8.35" cy="-7.38" rx="10.2" ry="12.2" fill="#96999c"/><path d="M7.50,-37.27 L9.49,-36.77 L11.45,-36.11 L13.37,-35.36 L15.29,-34.53 L17.21,-33.58 L19.10,-32.41 L20.94,-30.95 L22.66,-29.13 L24.20,-26.94 L25.53,-24.40 L26.62,-21.60 L27.51,-18.64 L28.24,-15.60 L28.86,-12.54 L29.42,-9.47 L29.94,-6.38 L30.38,-3.23 L30.71,-0.00 L30.84,3.29 L30.72,6.60 L30.31,9.86 L29.61,12.98 L28.66,15.91 L27.51,18.64 L26.25,21.17 L24.92,23.57 L23.55,25.89 L22.14,28.15 L20.67,30.35 L19.10,32.41 L17.40,34.25 L15.56,35.74 L13.61,36.79 L11.59,37.38 L9.53,37.51 L7.50,37.27 L5.51,36.77 L3.55,36.11 L1.63,35.36 L-0.29,34.53 L-2.21,33.58 L-4.10,32.41 L-5.94,30.95 L-7.66,29.13 L-9.20,26.94 L-10.53,24.40 L-11.62,21.60 L-12.51,18.64 L-13.24,15.60 L-13.86,12.54 L-14.42,9.47 L-14.94,6.38 L-15.38,3.23 L-15.71,0.00 L-15.84,-3.29 L-15.72,-6.60 L-15.31,-9.86 L-14.61,-12.98 L-13.66,-15.91 L-12.51,-18.64 L-11.25,-21.17 L-9.92,-23.57 L-8.55,-25.89 L-7.14,-28.15 L-5.67,-30.35 L-4.10,-32.41 L-2.40,-34.25 L-0.56,-35.74 L1.39,-36.79 L3.41,-37.38 L5.47,-37.51Z" fill="#a0a3a6"/><ellipse cx="2.29" cy="-29.32" rx="10.2" ry="12.2" fill="#a0a3a6"/><ellipse cx="20.64" cy="-21.94" rx="10.2" ry="12.2" fill="#a0a3a6"/><ellipse cx="25.85" cy="7.38" rx="10.2" ry="12.2" fill="#a0a3a6"/><ellipse cx="12.71" cy="29.32" rx="10.2" ry="12.2" fill="#a0a3a6"/><ellipse cx="-5.64" cy="21.94" rx="10.2" ry="12.2" fill="#a0a3a6"/><ellipse cx="-10.85" cy="-7.38" rx="10.2" ry="12.2" fill="#a0a3a6"/><path d="M5.00,-37.27 L6.99,-36.77 L8.95,-36.11 L10.87,-35.36 L12.79,-34.53 L14.71,-33.58 L16.60,-32.41 L18.44,-30.95 L20.16,-29.13 L21.70,-26.94 L23.03,-24.40 L24.12,-21.60 L25.01,-18.64 L25.74,-15.60 L26.36,-12.54 L26.92,-9.47 L27.44,-6.38 L27.88,-3.23 L28.21,-0.00 L28.34,3.29 L28.22,6.60 L27.81,9.86 L27.11,12.98 L26.16,15.91 L25.01,18.64 L23.75,21.17 L22.42,23.57 L21.05,25.89 L19.64,28.15 L18.17,30.35 L16.60,32.41 L14.90,34.25 L13.06,35.74 L11.11,36.79 L9.09,37.38 L7.03,37.51 L5.00,37.27 L3.01,36.77 L1.05,36.11 L-0.87,35.36 L-2.79,34.53 L-4.71,33.58 L-6.60,32.41 L-8.44,30.95 L-10.16,29.13 L-11.70,26.94 L-13.03,24.40 L-14.12,21.60 L-15.01,18.64 L-15.74,15.60 L-16.36,12.54 L-16.92,9.47 L-17.44,6.38 L-17.88,3.23 L-18.21,0.00 L-18.34,-3.29 L-18.22,-6.60 L-17.81,-9.86 L-17.11,-12.98 L-16.16,-15.91 L-15.01,-18.64 L-13.75,-21.17 L-12.42,-23.57 L-11.05,-25.89 L-9.64,-28.15 L-8.17,-30.35 L-6.60,-32.41 L-4.90,-34.25 L-3.06,-35.74 L-1.11,-36.79 L0.91,-37.38 L2.97,-37.51Z" fill="#94979a"/><ellipse cx="-0.21" cy="-29.32" rx="10.2" ry="12.2" fill="#94979a"/><ellipse cx="18.14" cy="-21.94" rx="10.2" ry="12.2" fill="#94979a"/><ellipse cx="23.35" cy="7.38" rx="10.2" ry="12.2" fill="#94979a"/><ellipse cx="10.21" cy="29.32" rx="10.2" ry="12.2" fill="#94979a"/><ellipse cx="-8.14" cy="21.94" rx="10.2" ry="12.2" fill="#94979a"/><ellipse cx="-13.35" cy="-7.38" rx="10.2" ry="12.2" fill="#94979a"/><path d="M2.50,-37.27 L4.49,-36.77 L6.45,-36.11 L8.37,-35.36 L10.29,-34.53 L12.21,-33.58 L14.10,-32.41 L15.94,-30.95 L17.66,-29.13 L19.20,-26.94 L20.53,-24.40 L21.62,-21.60 L22.51,-18.64 L23.24,-15.60 L23.86,-12.54 L24.42,-9.47 L24.94,-6.38 L25.38,-3.23 L25.71,-0.00 L25.84,3.29 L25.72,6.60 L25.31,9.86 L24.61,12.98 L23.66,15.91 L22.51,18.64 L21.25,21.17 L19.92,23.57 L18.55,25.89 L17.14,28.15 L15.67,30.35 L14.10,32.41 L12.40,34.25 L10.56,35.74 L8.61,36.79 L6.59,37.38 L4.53,37.51 L2.50,37.27 L0.51,36.77 L-1.45,36.11 L-3.37,35.36 L-5.29,34.53 L-7.21,33.58 L-9.10,32.41 L-10.94,30.95 L-12.66,29.13 L-14.20,26.94 L-15.53,24.40 L-16.62,21.60 L-17.51,18.64 L-18.24,15.60 L-18.86,12.54 L-19.42,9.47 L-19.94,6.38 L-20.38,3.23 L-20.71,0.00 L-20.84,-3.29 L-20.72,-6.60 L-20.31,-9.86 L-19.61,-12.98 L-18.66,-15.91 L-17.51,-18.64 L-16.25,-21.17 L-14.92,-23.57 L-13.55,-25.89 L-12.14,-28.15 L-10.67,-30.35 L-9.10,-32.41 L-7.40,-34.25 L-5.56,-35.74 L-3.61,-36.79 L-1.59,-37.38 L0.47,-37.51Z" fill="#8c8f92"/><ellipse cx="-2.71" cy="-29.32" rx="10.2" ry="12.2" fill="#8c8f92"/><ellipse cx="15.64" cy="-21.94" rx="10.2" ry="12.2" fill="#8c8f92"/><ellipse cx="20.85" cy="7.38" rx="10.2" ry="12.2" fill="#8c8f92"/><ellipse cx="7.71" cy="29.32" rx="10.2" ry="12.2" fill="#8c8f92"/><ellipse cx="-10.64" cy="21.94" rx="10.2" ry="12.2" fill="#8c8f92"/><ellipse cx="-15.85" cy="-7.38" rx="10.2" ry="12.2" fill="#8c8f92"/><path d="M0.00,-37.27 L1.99,-36.77 L3.95,-36.11 L5.87,-35.36 L7.79,-34.53 L9.71,-33.58 L11.60,-32.41 L13.44,-30.95 L15.16,-29.13 L16.70,-26.94 L18.03,-24.40 L19.12,-21.60 L20.01,-18.64 L20.74,-15.60 L21.36,-12.54 L21.92,-9.47 L22.44,-6.38 L22.88,-3.23 L23.21,-0.00 L23.34,3.29 L23.22,6.60 L22.81,9.86 L22.11,12.98 L21.16,15.91 L20.01,18.64 L18.75,21.17 L17.42,23.57 L16.05,25.89 L14.64,28.15 L13.17,30.35 L11.60,32.41 L9.90,34.25 L8.06,35.74 L6.11,36.79 L4.09,37.38 L2.03,37.51 L0.00,37.27 L-1.99,36.77 L-3.95,36.11 L-5.87,35.36 L-7.79,34.53 L-9.71,33.58 L-11.60,32.41 L-13.44,30.95 L-15.16,29.13 L-16.70,26.94 L-18.03,24.40 L-19.12,21.60 L-20.01,18.64 L-20.74,15.60 L-21.36,12.54 L-21.92,9.47 L-22.44,6.38 L-22.88,3.23 L-23.21,0.00 L-23.34,-3.29 L-23.22,-6.60 L-22.81,-9.86 L-22.11,-12.98 L-21.16,-15.91 L-20.01,-18.64 L-18.75,-21.17 L-17.42,-23.57 L-16.05,-25.89 L-14.64,-28.15 L-13.17,-30.35 L-11.60,-32.41 L-9.90,-34.25 L-8.06,-35.74 L-6.11,-36.79 L-4.09,-37.38 L-2.03,-37.51Z" fill="#929598"/><ellipse cx="-5.21" cy="-29.32" rx="10.2" ry="12.2" fill="#989b9e"/><ellipse cx="13.14" cy="-21.94" rx="10.2" ry="12.2" fill="#989b9e"/><ellipse cx="18.35" cy="7.38" rx="10.2" ry="12.2" fill="#989b9e"/><ellipse cx="5.21" cy="29.32" rx="10.2" ry="12.2" fill="#989b9e"/><ellipse cx="-13.14" cy="21.94" rx="10.2" ry="12.2" fill="#989b9e"/><ellipse cx="-18.35" cy="-7.38" rx="10.2" ry="12.2" fill="#989b9e"/><ellipse cx="0.5" cy="0" rx="9.26" ry="14.94" fill="#7c7f82"/><ellipse cx="1" cy="0" rx="5.66" ry="8.30" fill="#f2f2f2" stroke="#5e6164" stroke-width="0.8"/><ellipse cx="-3.01" cy="-29.02" rx="8.6" ry="10.2" fill="#63666a"/><ellipse cx="-5.21" cy="-29.32" rx="8.2" ry="9.8" fill="#b9bcbf" stroke="#7a7d80" stroke-width="0.5"/><ellipse cx="-4.41" cy="-29.12" rx="6.2" ry="7.5" fill="#4f5255"/><ellipse cx="-4.81" cy="-29.12" rx="4.3" ry="5.3" fill="#999c9f"/><ellipse cx="-4.61" cy="-29.12" rx="2.2" ry="2.8" fill="#55585b"/><ellipse cx="15.34" cy="-21.64" rx="8.6" ry="10.2" fill="#63666a"/><ellipse cx="13.14" cy="-21.94" rx="8.2" ry="9.8" fill="#b9bcbf" stroke="#7a7d80" stroke-width="0.5"/><ellipse cx="13.94" cy="-21.74" rx="6.2" ry="7.5" fill="#4f5255"/><ellipse cx="13.54" cy="-21.74" rx="4.3" ry="5.3" fill="#999c9f"/><ellipse cx="13.74" cy="-21.74" rx="2.2" ry="2.8" fill="#55585b"/><ellipse cx="20.55" cy="7.68" rx="8.6" ry="10.2" fill="#63666a"/><ellipse cx="18.35" cy="7.38" rx="8.2" ry="9.8" fill="#b9bcbf" stroke="#7a7d80" stroke-width="0.5"/><ellipse cx="19.15" cy="7.58" rx="6.2" ry="7.5" fill="#4f5255"/><ellipse cx="18.75" cy="7.58" rx="4.3" ry="5.3" fill="#999c9f"/><ellipse cx="18.95" cy="7.58" rx="2.2" ry="2.8" fill="#55585b"/><ellipse cx="7.41" cy="29.62" rx="8.6" ry="10.2" fill="#63666a"/><ellipse cx="5.21" cy="29.32" rx="8.2" ry="9.8" fill="#b9bcbf" stroke="#7a7d80" stroke-width="0.5"/><ellipse cx="6.01" cy="29.52" rx="6.2" ry="7.5" fill="#4f5255"/><ellipse cx="5.61" cy="29.52" rx="4.3" ry="5.3" fill="#999c9f"/><ellipse cx="5.81" cy="29.52" rx="2.2" ry="2.8" fill="#55585b"/><ellipse cx="-10.94" cy="22.24" rx="8.6" ry="10.2" fill="#63666a"/><ellipse cx="-13.14" cy="21.94" rx="8.2" ry="9.8" fill="#b9bcbf" stroke="#7a7d80" stroke-width="0.5"/><ellipse cx="-12.34" cy="22.14" rx="6.2" ry="7.5" fill="#4f5255"/><ellipse cx="-12.74" cy="22.14" rx="4.3" ry="5.3" fill="#999c9f"/><ellipse cx="-12.54" cy="22.14" rx="2.2" ry="2.8" fill="#55585b"/><ellipse cx="-16.15" cy="-7.08" rx="8.6" ry="10.2" fill="#63666a"/><ellipse cx="-18.35" cy="-7.38" rx="8.2" ry="9.8" fill="#b9bcbf" stroke="#7a7d80" stroke-width="0.5"/><ellipse cx="-17.55" cy="-7.18" rx="6.2" ry="7.5" fill="#4f5255"/><ellipse cx="-17.95" cy="-7.18" rx="4.3" ry="5.3" fill="#999c9f"/><ellipse cx="-17.75" cy="-7.18" rx="2.2" ry="2.8" fill="#55585b"/></g>
<g transform="translate(586.5,261.8) rotate(-30)"><path d="M0,-9.1 L17.5,-9.1 A5.46,9.1 0 0 1 17.5,9.1 L0,9.1 A5.46,9.1 0 0 1 0,-9.1Z" fill="url(#gCyl)"/><ellipse cx="0" cy="0" rx="5.5" ry="9.1" fill="#74777a" stroke="#5e6164" stroke-width="0.6" /><ellipse cx="0.4" cy="0" rx="4.1" ry="7.0" fill="#96999c" stroke="none" stroke-width="0" /><ellipse cx="0.9" cy="0" rx="2.9" ry="5.0" fill="#66696c" stroke="none" stroke-width="0" /><ellipse cx="1.3" cy="0.4" rx="1.8" ry="3.3" fill="#85888b" stroke="none" stroke-width="0" /></g>
<g transform="translate(41.6,339.4) rotate(-30)"><path d="M0,-8.1 L10.5,-8.1 A5.021999999999999,8.1 0 0 1 10.5,8.1 L0,8.1 A5.021999999999999,8.1 0 0 1 0,-8.1Z" fill="url(#gCyl)"/><ellipse cx="0" cy="0" rx="5.0" ry="8.1" fill="#74777a" stroke="#5e6164" stroke-width="0.6" /><ellipse cx="0.4" cy="0" rx="3.8" ry="6.2" fill="#96999c" stroke="none" stroke-width="0" /><ellipse cx="0.9" cy="0" rx="2.6" ry="4.3" fill="#66696c" stroke="none" stroke-width="0" /><ellipse cx="1.2" cy="0.3" rx="1.5" ry="2.7" fill="#85888b" stroke="none" stroke-width="0" /></g>
<g transform="translate(169.4,482.0) rotate(-36)"><ellipse cx="0" cy="0" rx="7.3" ry="11.0" fill="none" stroke="#3f4245" stroke-width="2.6" /><path d="M-6.2,-6 A7.3,11 0 0 1 2,-10.6" fill="none" stroke="#8a8d90" stroke-width="0.8"/></g>
<g transform="translate(226.9,451.2) rotate(-36)"><ellipse cx="0" cy="0" rx="7.3" ry="11.0" fill="none" stroke="#3f4245" stroke-width="2.6" /><path d="M-6.2,-6 A7.3,11 0 0 1 2,-10.6" fill="none" stroke="#8a8d90" stroke-width="0.8"/></g>
<g transform="translate(188.6,472.0) rotate(-33)"><ellipse cx="23.5" cy="0" rx="8.68" ry="14.0" fill="#74777c" stroke="#4a4d51" stroke-width="3.0" /><path d="M28.27,11.69 A8.68,14.00 0 1 1 31.31,-6.10" fill="none" stroke="#aaadb2" stroke-width="2.2"/><path d="M15.25,4.34 A8.68,14.00 0 0 1 26.54,-13.12" fill="none" stroke="#c0c3c7" stroke-width="0.9"/><ellipse cx="17.625" cy="0" rx="8.245999999999999" ry="13.299999999999999" fill="#74777c" stroke="#4a4d51" stroke-width="3.0" /><path d="M22.16,11.11 A8.25,13.30 0 1 1 25.05,-5.80" fill="none" stroke="#aaadb2" stroke-width="2.2"/><path d="M9.79,4.12 A8.25,13.30 0 0 1 20.51,-12.46" fill="none" stroke="#c0c3c7" stroke-width="0.9"/><ellipse cx="11.75" cy="0" rx="7.811999999999999" ry="12.6" fill="#74777c" stroke="#4a4d51" stroke-width="3.0" /><path d="M16.05,10.52 A7.81,12.60 0 1 1 18.78,-5.49" fill="none" stroke="#aaadb2" stroke-width="2.2"/><path d="M4.33,3.91 A7.81,12.60 0 0 1 14.48,-11.81" fill="none" stroke="#c0c3c7" stroke-width="0.9"/><ellipse cx="5.875" cy="0" rx="7.377999999999999" ry="11.899999999999999" fill="#74777c" stroke="#4a4d51" stroke-width="3.0" /><path d="M9.93,9.94 A7.38,11.90 0 1 1 12.52,-5.19" fill="none" stroke="#aaadb2" stroke-width="2.2"/><path d="M-1.13,3.69 A7.38,11.90 0 0 1 8.46,-11.15" fill="none" stroke="#c0c3c7" stroke-width="0.9"/><ellipse cx="0.0" cy="0" rx="6.944" ry="11.2" fill="#74777c" stroke="#4a4d51" stroke-width="3.0" /><path d="M3.82,9.35 A6.94,11.20 0 1 1 6.25,-4.88" fill="none" stroke="#aaadb2" stroke-width="2.2"/><path d="M-6.60,3.47 A6.94,11.20 0 0 1 2.43,-10.49" fill="none" stroke="#c0c3c7" stroke-width="0.9"/><ellipse cx="0.7" cy="0.1" rx="4.7" ry="7.6" fill="#a4a7ac" stroke="#4a4d51" stroke-width="1.8" /><ellipse cx="1.1" cy="0.3" rx="2.8" ry="5.0" fill="#5c5f63" stroke="none" stroke-width="0" /></g>
<path d="M176,479 L190.5,471.3" stroke="#111" stroke-width="1.4" fill="none" stroke-dasharray="15 2 1.8 2" stroke-dashoffset="0"/>
<polygon points="461.5,81.5 472.5,88 472.5,90.8 461.5,84.3" fill="#707376"/><polygon points="461.5,81.5 474,75 484,78.5 486,86 472.5,88" fill="#a3a6a9" stroke="#85888b" stroke-width="0.5"/><ellipse cx="470.8" cy="80.6" rx="2.4" ry="1.5" fill="#f4f4f4" stroke="#6a6d70" stroke-width="0.6" transform="rotate(-20 470.8 80.6)"/><polygon points="521,118.5 533,124 533,127 521,121.5" fill="#6c6f72"/><polygon points="533,124 543.5,117 543.5,120 533,127" fill="#5f6265"/><polygon points="518,112 530,110 543.5,117 533,124 521,118.5" fill="#a0a3a6" stroke="#85888b" stroke-width="0.5"/><ellipse cx="532.3" cy="117.6" rx="2.5" ry="1.5" fill="#f4f4f4" stroke="#6a6d70" stroke-width="0.6" transform="rotate(-20 532.3 117.6)"/>
<g transform="translate(498.2,96.8) rotate(-18)"><ellipse cx="12.50" cy="0.00" rx="20" ry="30.5" fill="url(#gHouse)"/><ellipse cx="11.46" cy="0.00" rx="20" ry="30.5" fill="url(#gHouse)"/><ellipse cx="10.42" cy="0.00" rx="20" ry="30.5" fill="url(#gHouse)"/><ellipse cx="9.38" cy="0.00" rx="20" ry="30.5" fill="url(#gHouse)"/><ellipse cx="8.33" cy="0.00" rx="20" ry="30.5" fill="url(#gHouse)"/><ellipse cx="7.29" cy="0.00" rx="20" ry="30.5" fill="url(#gHouse)"/><ellipse cx="6.25" cy="0.00" rx="20" ry="30.5" fill="url(#gHouse)"/><ellipse cx="5.21" cy="0.00" rx="20" ry="30.5" fill="url(#gHouse)"/><ellipse cx="4.17" cy="0.00" rx="20" ry="30.5" fill="url(#gHouse)"/><ellipse cx="3.12" cy="0.00" rx="20" ry="30.5" fill="url(#gHouse)"/><ellipse cx="2.08" cy="0.00" rx="20" ry="30.5" fill="url(#gHouse)"/><ellipse cx="1.04" cy="0.00" rx="20" ry="30.5" fill="url(#gHouse)"/><ellipse cx="0.00" cy="0.00" rx="20" ry="30.5" fill="url(#gHouse)"/><ellipse cx="0" cy="0" rx="20" ry="30.5" fill="#a3a6a9" stroke="#85888b" stroke-width="0.6" /><ellipse cx="0.9" cy="0.4" rx="18.2" ry="28.4" fill="#484b4f" stroke="none" stroke-width="0" /><ellipse cx="2.6" cy="1.0" rx="15.6" ry="24.6" fill="#5a5d61" stroke="none" stroke-width="0" /><ellipse cx="3.8" cy="1.4" rx="13.0" ry="20.6" fill="#414448" stroke="none" stroke-width="0" /><ellipse cx="5.0" cy="1.4" rx="10.4" ry="16.4" fill="#696c70" stroke="none" stroke-width="0" /><ellipse cx="5.8" cy="1.2" rx="8.0" ry="12.8" fill="#3a3d40" stroke="none" stroke-width="0" /><ellipse cx="8.2" cy="0.2" rx="5.0" ry="9.2" fill="#d8d9da" stroke="none" stroke-width="0" /><path d="M0,-30.5 A20,30.5 0 0 1 12.5,-30.5" fill="none"/></g>
<path d="M478.5,109.2 L506.5,94.4" stroke="#111" stroke-width="1.4" fill="none" stroke-dasharray="15 2 1.8 2" stroke-dashoffset="0"/>
<g transform="translate(540.4,76.0) rotate(-18)"><ellipse cx="7.60" cy="0.00" rx="10.4" ry="15.6" fill="url(#gRimL)"/><ellipse cx="6.65" cy="0.00" rx="10.4" ry="15.6" fill="url(#gRimL)"/><ellipse cx="5.70" cy="0.00" rx="10.4" ry="15.6" fill="url(#gRimL)"/><ellipse cx="4.75" cy="0.00" rx="10.4" ry="15.6" fill="url(#gRimL)"/><ellipse cx="3.80" cy="0.00" rx="10.4" ry="15.6" fill="url(#gRimL)"/><ellipse cx="2.85" cy="0.00" rx="10.4" ry="15.6" fill="url(#gRimL)"/><ellipse cx="1.90" cy="0.00" rx="10.4" ry="15.6" fill="url(#gRimL)"/><ellipse cx="0.95" cy="0.00" rx="10.4" ry="15.6" fill="url(#gRimL)"/><ellipse cx="0.00" cy="0.00" rx="10.4" ry="15.6" fill="url(#gRimL)"/><ellipse cx="0" cy="0" rx="10.4" ry="15.6" fill="#8d9093" stroke="#707376" stroke-width="0.6" /><ellipse cx="0.5" cy="0.2" rx="7.2" ry="11.2" fill="#505356" stroke="none" stroke-width="0" /><ellipse cx="2.2" cy="0.4" rx="5.8" ry="9.4" fill="#a2a5a8" stroke="none" stroke-width="0" /><ellipse cx="3.4" cy="0.4" rx="4.6" ry="8.0" fill="#ffffff" stroke="none" stroke-width="0" /></g>
<path d="M528,82 L543,74.5" stroke="#111" stroke-width="1.4" fill="none" stroke-dasharray="15 2 1.8 2" stroke-dashoffset="0"/>
<path d="M688.20,177.70 C688.95,174.16 688.49,174.52 691.40,172.30 C694.31,170.08 694.51,169.64 697.90,170.30 C701.29,170.96 700.96,170.36 702.70,174.50 C704.44,178.64 702.74,179.27 703.70,184.10 C704.66,188.93 703.32,188.95 705.90,190.60 C708.48,192.25 708.91,188.64 712.30,189.60 C715.69,190.56 715.46,190.14 717.20,193.80 C718.94,197.46 718.88,197.45 718.10,201.80 C717.32,206.15 716.34,204.91 714.60,208.30 C712.86,211.69 711.04,208.30 712.30,213.10 C713.56,217.90 716.37,218.99 718.80,224.30 C721.23,229.61 720.88,227.71 720.40,230.80 C719.92,233.89 719.90,233.85 717.20,234.60 C714.50,235.35 714.79,237.14 711.40,233.30 C708.01,229.46 709.95,227.38 705.90,221.80 C701.85,216.22 702.25,216.35 697.90,214.70 C693.55,213.05 697.19,216.30 691.40,216.30 C685.61,216.30 684.87,216.14 678.60,214.70 C672.33,213.26 673.68,214.41 670.50,211.50 C667.32,208.59 667.49,208.87 668.00,205.00 C668.51,201.13 668.06,201.30 672.20,198.60 C676.34,195.90 677.00,197.92 681.80,196.00 C686.60,194.08 686.07,195.77 688.20,192.20 C690.33,188.63 688.90,188.45 688.90,184.10 C688.90,179.75 687.45,181.24 688.20,177.70 Z" fill="#dfdfdf" stroke="#d0d0d0" stroke-width="0.8" />
<path d="M692,176 C694,172 700,172 701,177 L702,190 L712,222 C715,230 712,233 709,228 L698,208 L690,194 Z" fill="#efefef"/><ellipse cx="695.3" cy="179.4" rx="2.6" ry="3.4" fill="#fbfbfb" stroke="#cfcfcf" stroke-width="0.7" transform="rotate(-25 695.3 179.4)"/><ellipse cx="715.2" cy="228.6" rx="2.2" ry="3.0" fill="#fbfbfb" stroke="#cfcfcf" stroke-width="0.7" transform="rotate(-25 715.2 228.6)"/><ellipse cx="677.5" cy="205.5" rx="6.6" ry="7.6" fill="#ededed" stroke="#d4d4d4" stroke-width="0.7" transform="rotate(-25 677.5 205.5)"/><ellipse cx="690.5" cy="205" rx="6.6" ry="8.4" fill="#eeeeee" stroke="#d4d4d4" stroke-width="0.7" transform="rotate(-25 690.5 205)"/><ellipse cx="709.5" cy="198" rx="5" ry="8.6" fill="#ebebeb" stroke="#d2d2d2" stroke-width="0.7" transform="rotate(-25 709.5 198)"/>
<g transform="translate(732.8,184.0) rotate(-17)"><ellipse cx="0" cy="0" rx="13.6" ry="18.4" fill="none" stroke="#43464a" stroke-width="3.0" /><path d="M-12.6,-7.6 A13.8,18.6 0 0 1 3,-18.2" fill="none" stroke="#8a8d90" stroke-width="0.8"/></g>
<g transform="translate(771.5,163) rotate(-16)"><ellipse cx="-2.60" cy="0.60" rx="21" ry="31" fill="#a2a5a8"/><ellipse cx="-1.95" cy="0.45" rx="21" ry="31" fill="#a2a5a8"/><ellipse cx="-1.30" cy="0.30" rx="21" ry="31" fill="#a2a5a8"/><ellipse cx="-0.65" cy="0.15" rx="21" ry="31" fill="#a2a5a8"/><ellipse cx="0.00" cy="0.00" rx="21" ry="31" fill="#a2a5a8"/><ellipse cx="0" cy="0" rx="21" ry="31" fill="url(#gLight)" stroke="#a6a9ac" stroke-width="0.7" /><ellipse cx="-3" cy="4" rx="14.5" ry="20" fill="#aeb1b4" stroke="none" stroke-width="0" /><ellipse cx="-7.00" cy="1.50" rx="17" ry="22" fill="#8a8d90"/><ellipse cx="-6.17" cy="1.33" rx="17" ry="22" fill="#8a8d90"/><ellipse cx="-5.33" cy="1.17" rx="17" ry="22" fill="#8a8d90"/><ellipse cx="-4.50" cy="1.00" rx="17" ry="22" fill="#8a8d90"/><ellipse cx="-3.67" cy="0.83" rx="17" ry="22" fill="#8a8d90"/><ellipse cx="-2.83" cy="0.67" rx="17" ry="22" fill="#8a8d90"/><ellipse cx="-2.00" cy="0.50" rx="17" ry="22" fill="#8a8d90"/><ellipse cx="-7" cy="1.5" rx="17" ry="22" fill="#a3a6a9" stroke="#808386" stroke-width="0.6" /><ellipse cx="-4.29" cy="-18.39" rx="1.1" ry="1.6" fill="#74777a"/><ellipse cx="3.03" cy="-13.97" rx="1.1" ry="1.6" fill="#74777a"/><ellipse cx="7.66" cy="-5.41" rx="1.1" ry="1.6" fill="#74777a"/><ellipse cx="8.36" cy="5.01" rx="1.1" ry="1.6" fill="#74777a"/><ellipse cx="4.95" cy="14.48" rx="1.1" ry="1.6" fill="#74777a"/><ellipse cx="-1.66" cy="20.48" rx="1.1" ry="1.6" fill="#74777a"/><ellipse cx="-9.71" cy="21.39" rx="1.1" ry="1.6" fill="#74777a"/><ellipse cx="-17.03" cy="16.97" rx="1.1" ry="1.6" fill="#74777a"/><ellipse cx="-21.66" cy="8.41" rx="1.1" ry="1.6" fill="#74777a"/><ellipse cx="-22.36" cy="-2.01" rx="1.1" ry="1.6" fill="#74777a"/><ellipse cx="-18.95" cy="-11.48" rx="1.1" ry="1.6" fill="#74777a"/><ellipse cx="-12.34" cy="-17.48" rx="1.1" ry="1.6" fill="#74777a"/><ellipse cx="-16.50" cy="2.70" rx="11.5" ry="14" fill="#a6a9ac"/><ellipse cx="-15.38" cy="2.55" rx="11.5" ry="14" fill="#a6a9ac"/><ellipse cx="-14.25" cy="2.40" rx="11.5" ry="14" fill="#a6a9ac"/><ellipse cx="-13.12" cy="2.25" rx="11.5" ry="14" fill="#a6a9ac"/><ellipse cx="-12.00" cy="2.10" rx="11.5" ry="14" fill="#a6a9ac"/><ellipse cx="-10.88" cy="1.95" rx="11.5" ry="14" fill="#a6a9ac"/><ellipse cx="-9.75" cy="1.80" rx="11.5" ry="14" fill="#a6a9ac"/><ellipse cx="-8.62" cy="1.65" rx="11.5" ry="14" fill="#a6a9ac"/><ellipse cx="-7.50" cy="1.50" rx="11.5" ry="14" fill="#a6a9ac"/><ellipse cx="-16.5" cy="2.7" rx="11.5" ry="14" fill="#c0c3c6" stroke="#8d9093" stroke-width="0.6" /><ellipse cx="-16.2" cy="2.8" rx="9.3" ry="11.5" fill="#8b8e91" stroke="none" stroke-width="0" /><ellipse cx="-14.8" cy="3" rx="7.8" ry="9.8" fill="#adb0b3" stroke="none" stroke-width="0" /><ellipse cx="-14.2" cy="3.2" rx="5.8" ry="7.6" fill="#808386" stroke="none" stroke-width="0" /></g>
</g>
<g id="lines">
<path d="M556,67.5 L564,63.5" stroke="#111" stroke-width="1.4" fill="none"/>
<path d="M564,63.5 L655,116.5" stroke="#111" stroke-width="1.4" fill="none" stroke-dasharray="19.5 1.9 1.9 1.9" stroke-dashoffset="-14"/>
<path d="M655,116.5 L45.5,435.3" stroke="#111" stroke-width="1.4" fill="none" stroke-dasharray="19.5 1.9 1.9 1.9" stroke-dashoffset="11.55"/>
<path d="M45.5,435.3 L148.6,495" stroke="#111" stroke-width="1.4" fill="none" stroke-dasharray="19.5 1.9 1.9 1.9" stroke-dashoffset="6"/>
<path d="M148.6,495 L180,477.6" stroke="#111" stroke-width="1.4" fill="none" stroke-dasharray="19.5 1.9 1.9 1.9" stroke-dashoffset="0"/>
<path d="M219.5,455.3 L246.5,440.5" stroke="#111" stroke-width="1.4" fill="none" stroke-dasharray="15 2 1.8 2" stroke-dashoffset="0"/>
<path d="M469,114 L505,95" stroke="#111" stroke-width="1.4" fill="none" stroke-dasharray="15 2 1.8 2" stroke-dashoffset="0"/>
<path d="M528,82 L543,74.5" stroke="#111" stroke-width="1.4" fill="none" stroke-dasharray="15 2 1.8 2" stroke-dashoffset="0"/>
<path d="M139,257.5 L103,275" stroke="#111" stroke-width="1.4" fill="none" stroke-dasharray="15 2 1.8 2" stroke-dashoffset="0"/>
<path d="M146,287.5 L122,299" stroke="#111" stroke-width="1.4" fill="none" stroke-dasharray="15 2 1.8 2" stroke-dashoffset="0"/>
<path d="M93,312.5 L55,331" stroke="#111" stroke-width="1.4" fill="none" stroke-dasharray="15 2 1.8 2" stroke-dashoffset="0"/>
<path d="M171,205.5 L154,212.5" stroke="#111" stroke-width="1.4" fill="none" stroke-dasharray="15 2 1.8 2" stroke-dashoffset="0"/><path d="M154,212.5 L154,248.5" stroke="#111" stroke-width="1.4" fill="none" stroke-dasharray="15 2 1.8 2" stroke-dashoffset="0"/><path d="M154,248.5 L147.5,251.5" stroke="#111" stroke-width="1.4" fill="none" stroke-dasharray="15 2 1.8 2" stroke-dashoffset="0"/>
<path d="M41,272.5 L51.3,267.8" stroke="#111" stroke-width="1.4" fill="none"/>
<path d="M51.3,267.8 L51.3,301.7" stroke="#111" stroke-width="1.4" fill="none" stroke-dasharray="15 2 1.8 2" stroke-dashoffset="0"/>
<path d="M51.3,301.7 L66.5,294" stroke="#111" stroke-width="1.4" fill="none"/>
<path d="M176.8,340.6 L137.3,359" stroke="#111" stroke-width="1.4" fill="none" stroke-dasharray="15 2 1.8 2" stroke-dashoffset="0"/>
<path d="M137.3,359 L137.3,327" stroke="#111" stroke-width="1.4" fill="none" stroke-dasharray="15 2 1.8 2" stroke-dashoffset="0"/>
<path d="M137.3,327 L127.5,332" stroke="#111" stroke-width="1.4" fill="none"/>
<path d="M671,148.5 L658.5,154.5" stroke="#111" stroke-width="1.4" fill="none"/>
<path d="M658.5,154.5 L658.5,189" stroke="#111" stroke-width="1.4" fill="none" stroke-dasharray="15 2 1.8 2" stroke-dashoffset="0"/>
<path d="M658.5,189 L651,193" stroke="#111" stroke-width="1.4" fill="none"/>
<path d="M497.5,254 L511,248.5" stroke="#111" stroke-width="1.4" fill="none" stroke-dasharray="15 2 1.8 2" stroke-dashoffset="0"/><path d="M511,248.5 L511,266" stroke="#111" stroke-width="1.4" fill="none" stroke-dasharray="15 2 1.8 2" stroke-dashoffset="0"/><path d="M511,266 L535,256.5" stroke="#111" stroke-width="1.4" fill="none" stroke-dasharray="15 2 1.8 2" stroke-dashoffset="0"/>
<path d="M546,249.5 L611.5,215.5" stroke="#111" stroke-width="1.4" fill="none" stroke-dasharray="15 2 1.8 2" stroke-dashoffset="0"/>
<path d="M609.5,336.5 L632.5,326" stroke="#111" stroke-width="1.4" fill="none" stroke-dasharray="15 2 1.8 2" stroke-dashoffset="0"/><path d="M632.5,326 L632.5,272.5" stroke="#111" stroke-width="1.4" fill="none" stroke-dasharray="15 2 1.8 2" stroke-dashoffset="0"/><path d="M632.5,272.5 L653,261.5" stroke="#111" stroke-width="1.4" fill="none" stroke-dasharray="15 2 1.8 2" stroke-dashoffset="0"/>
<path d="M680,248 L731,220" stroke="#111" stroke-width="1.4" fill="none" stroke-dasharray="15 2 1.8 2" stroke-dashoffset="0"/>
<path d="M78.5,358 L103,345.5" stroke="#111" stroke-width="1.4" fill="none"/>
<path d="M92,247.5 L92,269" stroke="#111" stroke-width="1.4" fill="none"/>
<path d="M43,351 L43,364" stroke="#111" stroke-width="1.4" fill="none"/>
<path d="M167.5,444 L167.5,470" stroke="#111" stroke-width="1.4" fill="none"/>
<path d="M194,431 L194,447" stroke="#111" stroke-width="1.4" fill="none"/>
<path d="M225.3,420.5 L225.3,440" stroke="#111" stroke-width="1.4" fill="none"/>
<path d="M513.4,26 L513.4,35.5" stroke="#111" stroke-width="1.4" fill="none"/>
<path d="M491,64 L491,46 L539.5,23.5 L539.5,33" stroke="#111" stroke-width="1.4" fill="none"/>
<path d="M539.5,50 L539.5,58.5" stroke="#111" stroke-width="1.4" fill="none"/>
<path d="M533,123 L533,135" stroke="#111" stroke-width="1.4" fill="none"/>
<path d="M746.3,104 L746.3,116" stroke="#111" stroke-width="1.4" fill="none"/>
<path d="M728.8,161.5 L728.8,125.3 L766.6,105.7 L766.6,131.5" stroke="#111" stroke-width="1.4" fill="none"/>
<path d="M626,175.5 L626,191" stroke="#111" stroke-width="1.4" fill="none"/>
<path d="M597.5,270 L597.5,292.5" stroke="#111" stroke-width="1.4" fill="none"/>
</g>
<g id="labels">
<text x="92" y="244.6" font-size="18.3" font-weight="bold" text-anchor="middle" fill="#0a0a0a" stroke="#0a0a0a" stroke-width="0.45">1</text>
<text x="43" y="380" font-size="18.3" font-weight="bold" text-anchor="middle" fill="#0a0a0a" stroke="#0a0a0a" stroke-width="0.45">2</text>
<text x="167" y="441.7" font-size="18.3" font-weight="bold" text-anchor="middle" fill="#0a0a0a" stroke="#0a0a0a" stroke-width="0.45">5</text>
<text x="194" y="428.5" font-size="18.3" font-weight="bold" text-anchor="middle" fill="#0a0a0a" stroke="#0a0a0a" stroke-width="0.45">6</text>
<text x="225.5" y="418" font-size="18.3" font-weight="bold" text-anchor="middle" fill="#0a0a0a" stroke="#0a0a0a" stroke-width="0.45">5</text>
<text x="513" y="23.5" font-size="18.3" font-weight="bold" text-anchor="middle" fill="#0a0a0a" stroke="#0a0a0a" stroke-width="0.45">7</text>
<text x="539.5" y="47.5" font-size="18.3" font-weight="bold" text-anchor="middle" fill="#0a0a0a" stroke="#0a0a0a" stroke-width="0.45">8</text>
<text x="745.8" y="100.8" font-size="18.3" font-weight="bold" text-anchor="middle" fill="#0a0a0a" stroke="#0a0a0a" stroke-width="0.45">15</text>
<text x="626" y="172" font-size="18.3" font-weight="bold" text-anchor="middle" fill="#0a0a0a" stroke="#0a0a0a" stroke-width="0.45">10</text>
<text x="597.5" y="310.6" font-size="18.3" font-weight="bold" text-anchor="middle" fill="#0a0a0a" stroke="#0a0a0a" stroke-width="0.45">11</text>
<circle cx="180.5" cy="201" r="10.6" fill="#fff" stroke="#111" stroke-width="1.5"/><text x="180.5" y="206.15" font-size="14.3" font-weight="bold" text-anchor="middle" fill="#111" stroke="#111" stroke-width="0.5">3</text>
<circle cx="31.3" cy="278.5" r="10.6" fill="#fff" stroke="#111" stroke-width="1.5"/><text x="31.3" y="283.65" font-size="14.3" font-weight="bold" text-anchor="middle" fill="#111" stroke="#111" stroke-width="0.5">4</text>
<circle cx="68.8" cy="363.7" r="10.6" fill="#fff" stroke="#111" stroke-width="1.5"/><text x="68.8" y="368.85" font-size="14.3" font-weight="bold" text-anchor="middle" fill="#111" stroke="#111" stroke-width="0.5">4</text>
<circle cx="186.6" cy="336" r="10.6" fill="#fff" stroke="#111" stroke-width="1.5"/><text x="186.6" y="341.15" font-size="14.3" font-weight="bold" text-anchor="middle" fill="#111" stroke="#111" stroke-width="0.5">3</text>
<circle cx="533.3" cy="146" r="10.6" fill="#fff" stroke="#111" stroke-width="1.5"/><text x="533.3" y="151.15" font-size="14.3" font-weight="bold" text-anchor="middle" fill="#111" stroke="#111" stroke-width="0.5">9</text>
<circle cx="680.5" cy="143.7" r="10.6" fill="#fff" stroke="#111" stroke-width="1.5"/><text x="680.5" y="148.45" font-size="13.2" font-weight="bold" text-anchor="middle" fill="#111" stroke="#111" stroke-width="0.5">13</text>
<circle cx="487.5" cy="260" r="10.6" fill="#fff" stroke="#111" stroke-width="1.5"/><text x="487.5" y="264.75" font-size="13.2" font-weight="bold" text-anchor="middle" fill="#111" stroke="#111" stroke-width="0.5">12</text>
<circle cx="599.6" cy="341.8" r="10.6" fill="#fff" stroke="#111" stroke-width="1.5"/><text x="599.6" y="346.55" font-size="13.2" font-weight="bold" text-anchor="middle" fill="#111" stroke="#111" stroke-width="0.5">14</text>
</g>
<g id="table">
<rect x="721.6" y="346.3" width="70.3" height="191.9" stroke="#2a2a2a" stroke-width="1.05" fill="#fff"/>
<rect x="581.6" y="442" width="140" height="96.2" stroke="#2a2a2a" stroke-width="1.05" fill="#fff"/>
<path d="M721.6,394.4 L791.9,394.4" stroke="#111" stroke-width="1.05" fill="none"/>
<path d="M721.6,442 L791.9,442" stroke="#111" stroke-width="1.05" fill="none"/>
<path d="M721.6,490 L791.9,490" stroke="#111" stroke-width="1.05" fill="none"/>
<path d="M651.5,442 L651.5,538.2" stroke="#111" stroke-width="1.05" fill="none"/>
<text x="725.3" y="364" font-size="18.3" font-weight="bold" text-anchor="start" fill="#0a0a0a" stroke="#0a0a0a" stroke-width="0.45">13</text>
<text x="730" y="412.7" font-size="18.3" font-weight="bold" text-anchor="start" fill="#0a0a0a" stroke="#0a0a0a" stroke-width="0.45">9</text>
<text x="730" y="460" font-size="18.3" font-weight="bold" text-anchor="start" fill="#0a0a0a" stroke="#0a0a0a" stroke-width="0.45">4</text>
<text x="586" y="460" font-size="18.3" font-weight="bold" text-anchor="start" fill="#0a0a0a" stroke="#0a0a0a" stroke-width="0.45">14</text>
<text x="660.5" y="460" font-size="18.3" font-weight="bold" text-anchor="start" fill="#0a0a0a" stroke="#0a0a0a" stroke-width="0.45">3</text>
<text x="656" y="527.3" font-size="18.3" font-weight="bold" text-anchor="start" fill="#0a0a0a" stroke="#0a0a0a" stroke-width="0.45">12</text>
<text x="759.8" y="552.8" font-size="13" font-weight="normal" text-anchor="middle" fill="#3c3c3c">464354</text>
<polygon points="727.5,506.3 736.9,512.3 767.5,494.4 786.9,505.6 756.9,523.1 765.6,527.5 727.5,527.5" fill="#fff" stroke="#111" stroke-width="1"/>
<polygon points="727.5,527.5 765.6,527.5 765.6,533.8 727.5,533.8" fill="#0a0a0a" stroke="#0a0a0a" stroke-width="0.8"/>
<polygon points="786.9,505.6 786.9,509.6 764,526.7 756.9,523.1" fill="#0a0a0a" stroke="#0a0a0a" stroke-width="0.8"/>
<ellipse cx="765.6" cy="379" rx="21.6" ry="9.2" fill="#86898c"/><ellipse cx="765.6" cy="377" rx="21.6" ry="9.2" fill="url(#gFlg)"/><polygon points="748.6,358.8 757.1,366.594 757.1,378.594 748.6,370.8" fill="#8b8e91" stroke="#8b8e91" stroke-width="0.4"/><polygon points="757.1,366.594 774.1,366.594 774.1,378.594 757.1,378.594" fill="#b9bcbf" stroke="#b9bcbf" stroke-width="0.4"/><polygon points="774.1,366.594 782.6,358.8 782.6,370.8 774.1,378.594" fill="#6f7275" stroke="#6f7275" stroke-width="0.4"/><polygon points="748.6,358.8 757.1,366.594 774.1,366.594 782.6,358.8 774.1,351.00600000000003 757.1,351.00600000000003" fill="#a6a9ac" stroke="#8a8d90" stroke-width="0.4"/><ellipse cx="765.8" cy="357.6" rx="11.6" ry="6.4" fill="#c2c5c8" stroke="#9a9da0" stroke-width="0.5"/><ellipse cx="766" cy="358.2" rx="9.2" ry="5" fill="#5c5f62"/><path d="M757.4,360 A9.2,5 0 0 0 775,359.6 L774,362 A9,4 0 0 1 758.6,362.4Z" fill="#8e9194"/><rect x="757.6" y="355" width="3" height="9" fill="#b0b3b6" transform="rotate(-8 759 360)"/><path d="M758.6,419 L769.6,419 L769.6,433.6 L764.2,437.6 L758.6,433.6Z" fill="url(#gB)"/><path d="M758.6,423.5 L769.6,422.1" stroke="#75787b" stroke-width="0.8"/><path d="M758.6,427 L769.6,425.6" stroke="#75787b" stroke-width="0.8"/><path d="M758.6,430.5 L769.6,429.1" stroke="#75787b" stroke-width="0.8"/><path d="M758.6,434 L769.6,432.6" stroke="#75787b" stroke-width="0.8"/><ellipse cx="764.4" cy="414.6" rx="15.6" ry="7.2" fill="#7e8184"/><ellipse cx="764.4" cy="412" rx="15.6" ry="7.2" fill="url(#gFlg)"/><polygon points="755.4,402.6 759.9,406.58360000000005 759.9,415.18360000000007 755.4,411.20000000000005" fill="#8b8e91" stroke="#8b8e91" stroke-width="0.4"/><polygon points="759.9,406.58360000000005 768.9,406.58360000000005 768.9,415.18360000000007 759.9,415.18360000000007" fill="#b9bcbf" stroke="#b9bcbf" stroke-width="0.4"/><polygon points="768.9,406.58360000000005 773.4,402.6 773.4,411.20000000000005 768.9,415.18360000000007" fill="#6f7275" stroke="#6f7275" stroke-width="0.4"/><polygon points="755.4,402.6 759.9,406.58360000000005 768.9,406.58360000000005 773.4,402.6 768.9,398.6164 759.9,398.6164" fill="#a6a9ac" stroke="#8a8d90" stroke-width="0.4"/><polygon points="740.5,461.5 751.75,469.9868 751.75,484.9868 740.5,476.5" fill="#909396" stroke="#909396" stroke-width="0.4"/><polygon points="751.75,469.9868 774.25,469.9868 774.25,484.9868 751.75,484.9868" fill="#c3c6c9" stroke="#c3c6c9" stroke-width="0.4"/><polygon points="774.25,469.9868 785.5,461.5 785.5,476.5 774.25,484.9868" fill="#6e7174" stroke="#6e7174" stroke-width="0.4"/><polygon points="740.5,461.5 751.75,469.9868 774.25,469.9868 785.5,461.5 774.25,453.0132 751.75,453.0132" fill="#aaadb0" stroke="#8a8d90" stroke-width="0.4"/><ellipse cx="763.4" cy="459" rx="14.6" ry="7.0" fill="#9da0a3"/><rect x="748.8" y="455.6" width="29.2" height="3.4" fill="#9da0a3"/><ellipse cx="763.4" cy="455.6" rx="14.6" ry="6.8" fill="#c6c9cc" stroke="#a0a3a6" stroke-width="0.5"/><ellipse cx="763.6" cy="456.2" rx="11.4" ry="5.2" fill="#54575a"/><path d="M752.8,458 A11.4,5.2 0 0 0 774.8,457 L773.4,460.2 A10,4 0 0 1 754,460.8Z" fill="#8a8d90"/><rect x="759.4" y="448.6" width="2.4" height="6" fill="#85888b" transform="rotate(-6 760 450)"/><path d="M621.4,462 L634.6,462 L634.6,517.5 C634.6,521.5 621.4,521.5 621.4,517.5Z" fill="url(#gB)"/><path d="M621.4,491.0 L634.6,489.8" stroke="#7b7e81" stroke-width="0.9"/><path d="M621.4,494.2 L634.6,493.0" stroke="#7b7e81" stroke-width="0.9"/><path d="M621.4,497.4 L634.6,496.2" stroke="#7b7e81" stroke-width="0.9"/><path d="M621.4,500.6 L634.6,499.40000000000003" stroke="#7b7e81" stroke-width="0.9"/><path d="M621.4,503.8 L634.6,502.6" stroke="#7b7e81" stroke-width="0.9"/><path d="M621.4,507.0 L634.6,505.8" stroke="#7b7e81" stroke-width="0.9"/><path d="M621.4,510.2 L634.6,509.0" stroke="#7b7e81" stroke-width="0.9"/><path d="M621.4,513.4 L634.6,512.1999999999999" stroke="#7b7e81" stroke-width="0.9"/><path d="M621.4,516.6 L634.6,515.4" stroke="#7b7e81" stroke-width="0.9"/><ellipse cx="628" cy="463" rx="11.8" ry="4.8" fill="#7b7e81"/><ellipse cx="628" cy="461" rx="11.8" ry="4.8" fill="url(#gFlg)"/><path d="M621.2,449.6 L634.8,449.6 L634.8,460 C634.8,463 621.2,463 621.2,460Z" fill="url(#gB)"/><path d="M623.6,451 L623.6,460.6" stroke="#7e8184" stroke-width="0.9"/><path d="M626.6,451 L626.6,460.6" stroke="#7e8184" stroke-width="0.9"/><path d="M629.6,451 L629.6,460.6" stroke="#7e8184" stroke-width="0.9"/><path d="M632.4,451 L632.4,460.6" stroke="#7e8184" stroke-width="0.9"/><ellipse cx="628" cy="449.6" rx="6.8" ry="2.5" fill="#b4b7ba" stroke="#8e9194" stroke-width="0.5"/><rect x="692.2" y="458" width="9" height="75" rx="1.5" fill="url(#gB)"/><path d="M692.2,509.0 L701.2,508.0" stroke="#7b7e81" stroke-width="0.8"/><path d="M692.2,512.1 L701.2,511.1" stroke="#7b7e81" stroke-width="0.8"/><path d="M692.2,515.2 L701.2,514.2" stroke="#7b7e81" stroke-width="0.8"/><path d="M692.2,518.3 L701.2,517.3" stroke="#7b7e81" stroke-width="0.8"/><path d="M692.2,521.4 L701.2,520.4" stroke="#7b7e81" stroke-width="0.8"/><path d="M692.2,524.5 L701.2,523.5" stroke="#7b7e81" stroke-width="0.8"/><path d="M692.2,527.6 L701.2,526.6" stroke="#7b7e81" stroke-width="0.8"/><path d="M692.2,530.7 L701.2,529.7" stroke="#7b7e81" stroke-width="0.8"/><polygon points="687,449.4 691.6,445 701.8,445 706.4,449.4 706.4,457 701.8,459.4 691.6,459.4 687,457" fill="#9fa2a5"/><polygon points="687,449.4 691.6,451.6 691.6,459.4 687,457" fill="#85888b"/><polygon points="691.6,451.6 701.8,451.6 701.8,459.4 691.6,459.4" fill="#b4b7ba"/><polygon points="706.4,449.4 701.8,451.6 701.8,459.4 706.4,457" fill="#7b7e81"/><polygon points="687,449.4 691.6,445 701.8,445 706.4,449.4 701.8,451.6 691.6,451.6" fill="#a9acaf"/>
</g>
</svg>
</body></html>
